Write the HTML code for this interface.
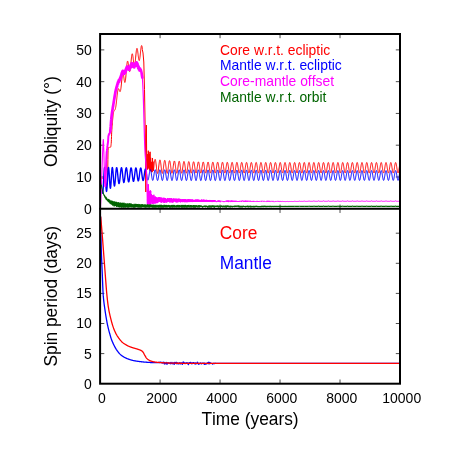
<!DOCTYPE html>
<html>
<head>
<meta charset="utf-8">
<title>Obliquity and spin period</title>
<style>
html,body{margin:0;padding:0;background:#fff;}
body{width:450px;height:454px;overflow:hidden;}
svg{display:block;will-change:transform;}
text{font-family:"Liberation Sans",sans-serif;font-kerning:none;}
</style>
</head>
<body>
<svg width="450" height="454" viewBox="0 0 450 454">
<defs>
<clipPath id="c1"><rect x="100.1" y="34.0" width="299.9" height="174.75"/></clipPath>
<clipPath id="c2"><rect x="100.1" y="208.75" width="299.9" height="174.95"/></clipPath>
</defs>
<path d="M160.08,34.00 L160.08,38.20 M160.08,208.75 L160.08,204.55 M160.08,208.75 L160.08,212.95 M160.08,383.70 L160.08,379.50 M220.06,34.00 L220.06,38.20 M220.06,208.75 L220.06,204.55 M220.06,208.75 L220.06,212.95 M220.06,383.70 L220.06,379.50 M280.04,34.00 L280.04,38.20 M280.04,208.75 L280.04,204.55 M280.04,208.75 L280.04,212.95 M280.04,383.70 L280.04,379.50 M340.02,34.00 L340.02,38.20 M340.02,208.75 L340.02,204.55 M340.02,208.75 L340.02,212.95 M340.02,383.70 L340.02,379.50 M100.10,176.98 L104.30,176.98 M400.00,176.98 L395.80,176.98 M100.10,145.20 L104.30,145.20 M400.00,145.20 L395.80,145.20 M100.10,113.43 L104.30,113.43 M400.00,113.43 L395.80,113.43 M100.10,81.66 L104.30,81.66 M400.00,81.66 L395.80,81.66 M100.10,49.89 L104.30,49.89 M400.00,49.89 L395.80,49.89 M100.10,353.60 L104.30,353.60 M400.00,353.60 L395.80,353.60 M100.10,323.50 L104.30,323.50 M400.00,323.50 L395.80,323.50 M100.10,293.40 L104.30,293.40 M400.00,293.40 L395.80,293.40 M100.10,263.30 L104.30,263.30 M400.00,263.30 L395.80,263.30 M100.10,233.20 L104.30,233.20 M400.00,233.20 L395.80,233.20" stroke="#000" stroke-width="0.7" fill="none"/>
<g fill="none" stroke-linejoin="round" stroke-linecap="butt" clip-path="url(#c1)">
<path d="M100.10,178.00 L100.20,178.00 L100.30,178.00 L100.40,178.00 L100.50,178.01 L100.60,178.01 L100.70,178.01 L100.80,178.02 L100.90,178.02 L101.00,178.03 L101.10,178.04 L101.20,178.05 L101.30,178.06 L101.40,178.07 L101.50,178.08 L101.60,178.09 L101.70,178.10 L101.80,178.12 L101.90,178.13 L102.00,178.15 L102.10,178.16 L102.20,178.18 L102.30,178.20 L102.40,178.22 L102.50,178.24 L102.60,178.26 L102.70,178.28 L102.80,178.30 L102.90,178.33 L103.00,178.36 L103.10,178.38 L103.20,178.41 L103.30,178.44 L103.40,178.47 L103.50,178.50 L103.60,178.57 L103.70,178.71 L103.80,178.90 L103.90,179.15 L104.00,179.45 L104.10,179.78 L104.20,180.14 L104.30,180.51 L104.40,180.90 L104.50,181.29 L104.60,181.68 L104.70,182.05 L104.80,182.40 L104.90,182.72 L105.00,183.00 L105.10,183.27 L105.20,183.56 L105.30,183.87 L105.40,184.18 L105.50,184.48 L105.60,184.78 L105.70,185.06 L105.80,185.32 L105.90,185.54 L106.00,185.73 L106.10,185.88 L106.20,185.97 L106.30,186.00 L106.40,185.96 L106.50,185.83 L106.60,185.62 L106.70,185.33 L106.80,184.95 L106.90,184.51 L107.00,183.99 L107.10,183.39 L107.20,182.73 L107.30,182.00 L107.40,180.77 L107.50,178.66 L107.60,175.77 L107.70,172.18 L107.80,168.00 L107.90,159.34 L108.00,152.00 L108.10,150.37 L108.20,149.12 L108.30,148.23 L108.40,147.70 L108.50,147.50 L108.60,147.47 L108.70,147.44 L108.80,147.42 L108.90,147.40 L109.00,147.39 L109.10,147.37 L109.20,147.37 L109.30,147.36 L109.40,147.35 L109.50,147.35 L109.60,147.34 L109.70,147.34 L109.80,147.34 L109.90,147.33 L110.00,147.32 L110.10,147.31 L110.20,147.30 L110.30,147.28 L110.40,147.26 L110.50,147.23 L110.60,147.20 L110.70,147.04 L110.80,146.65 L110.90,146.07 L111.00,145.32 L111.10,144.46 L111.20,143.50 L111.30,141.92 L111.40,139.47 L111.50,136.67 L111.60,134.09 L111.70,132.12 L111.80,130.65 L111.90,129.22 L112.00,127.84 L112.10,126.49 L112.20,125.17 L112.30,123.89 L112.40,122.65 L112.50,121.45 L112.60,120.28 L112.70,119.16 L112.80,118.09 L112.90,117.07 L113.00,116.11 L113.10,115.28 L113.20,114.52 L113.30,113.84 L113.40,113.22 L113.50,112.69 L113.60,112.22 L113.70,111.81 L113.80,111.47 L113.90,111.19 L114.00,110.96 L114.10,110.78 L114.20,110.63 L114.30,110.52 L114.40,110.42 L114.50,110.34 L114.60,110.26 L114.70,110.18 L114.80,110.08 L114.90,109.95 L115.00,109.78 L115.10,109.57 L115.20,109.32 L115.30,109.02 L115.40,108.67 L115.50,108.27 L115.60,107.81 L115.70,107.30 L115.80,106.73 L115.90,106.11 L116.00,105.42 L116.10,104.69 L116.20,103.91 L116.30,103.08 L116.40,102.21 L116.50,101.31 L116.60,100.38 L116.70,99.44 L116.80,98.49 L116.90,97.54 L117.00,96.61 L117.10,95.69 L117.20,94.81 L117.30,93.97 L117.40,93.17 L117.50,92.42 L117.60,91.72 L117.70,91.09 L117.80,90.53 L117.90,90.03 L118.00,89.61 L118.10,89.27 L118.20,89.01 L118.30,88.83 L118.40,88.72 L118.50,88.69 L118.60,88.72 L118.70,88.82 L118.80,88.97 L118.90,89.17 L119.00,89.40 L119.10,89.67 L119.20,89.95 L119.30,90.24 L119.40,90.54 L119.50,90.81 L119.60,91.07 L119.70,91.29 L119.80,91.46 L119.90,91.58 L120.00,91.64 L120.10,91.63 L120.20,91.54 L120.30,91.37 L120.40,91.12 L120.50,90.77 L120.60,90.33 L120.70,89.81 L120.80,89.20 L120.90,88.52 L121.00,87.75 L121.10,86.92 L121.20,86.03 L121.30,85.09 L121.40,84.10 L121.50,83.08 L121.60,82.05 L121.70,81.02 L121.80,80.00 L121.90,79.00 L122.00,78.05 L122.10,77.14 L122.20,76.31 L122.30,75.56 L122.40,74.89 L122.50,74.33 L122.60,73.87 L122.70,73.53 L122.80,73.31 L122.90,73.21 L123.00,73.22 L123.10,73.36 L123.20,73.61 L123.30,73.97 L123.40,74.42 L123.50,74.97 L123.60,75.58 L123.70,76.26 L123.80,76.98 L123.90,77.73 L124.00,78.50 L124.10,79.23 L124.20,79.93 L124.30,80.57 L124.40,81.14 L124.50,81.62 L124.60,82.01 L124.70,82.28 L124.80,82.44 L124.90,82.47 L125.00,82.37 L125.10,82.14 L125.20,81.77 L125.30,81.28 L125.40,80.66 L125.50,79.91 L125.60,79.06 L125.70,78.11 L125.80,77.07 L125.90,75.96 L126.00,74.79 L126.10,73.58 L126.20,72.34 L126.30,71.10 L126.40,69.87 L126.50,68.67 L126.60,67.51 L126.70,66.41 L126.80,65.38 L126.90,64.44 L127.00,63.60 L127.10,62.87 L127.20,62.26 L127.30,61.77 L127.40,61.42 L127.50,61.19 L127.60,61.10 L127.70,61.14 L127.80,61.31 L127.90,61.60 L128.00,61.99 L128.10,62.49 L128.20,63.07 L128.30,63.73 L128.40,64.45 L128.50,65.21 L128.60,65.99 L128.70,66.78 L128.80,67.57 L128.90,68.32 L129.00,69.03 L129.10,69.69 L129.20,70.26 L129.30,70.75 L129.40,71.14 L129.50,71.41 L129.60,71.57 L129.70,71.61 L129.80,71.52 L129.90,71.30 L130.00,70.96 L130.10,70.49 L130.20,69.91 L130.30,69.22 L130.40,68.42 L130.50,67.54 L130.60,66.58 L130.70,65.57 L130.80,64.50 L130.90,63.41 L131.00,62.31 L131.10,61.21 L131.20,60.13 L131.30,59.10 L131.40,58.12 L131.50,57.21 L131.60,56.39 L131.70,55.66 L131.80,55.04 L131.90,54.54 L132.00,54.16 L132.10,53.91 L132.20,53.78 L132.30,53.79 L132.40,53.92 L132.50,54.17 L132.60,54.54 L132.70,55.02 L132.80,55.59 L132.90,56.25 L133.00,56.97 L133.10,57.75 L133.20,58.57 L133.30,59.41 L133.40,60.26 L133.50,61.10 L133.60,61.91 L133.70,62.68 L133.80,63.39 L133.90,64.02 L134.00,64.57 L134.10,65.01 L134.20,65.35 L134.30,65.58 L134.40,65.68 L134.50,65.65 L134.60,65.50 L134.70,65.22 L134.80,64.82 L134.90,64.30 L135.00,63.66 L135.10,62.93 L135.20,62.10 L135.30,61.19 L135.40,60.22 L135.50,59.21 L135.60,58.15 L135.70,57.08 L135.80,56.01 L135.90,54.95 L136.00,53.92 L136.10,52.94 L136.20,52.02 L136.30,51.18 L136.40,50.43 L136.50,49.78 L136.60,49.24 L136.70,48.82 L136.80,48.53 L136.90,48.36 L137.00,48.32 L137.10,48.40 L137.20,48.62 L137.30,48.95 L137.40,49.38 L137.50,49.93 L137.60,50.56 L137.70,51.26 L137.80,52.04 L137.90,52.86 L138.00,53.71 L138.10,54.58 L138.20,55.45 L138.30,56.29 L138.40,57.10 L138.50,57.85 L138.60,58.54 L138.70,59.15 L138.80,59.66 L138.90,60.07 L139.00,60.37 L139.10,60.55 L139.20,60.61 L139.30,60.54 L139.40,60.36 L139.50,60.05 L139.60,59.62 L139.70,59.09 L139.80,58.45 L139.90,57.72 L140.00,56.92 L140.10,56.04 L140.20,55.12 L140.30,54.16 L140.40,53.19 L140.50,52.21 L140.60,51.24 L140.70,50.31 L140.80,49.42 L140.90,48.60 L141.00,47.85 L141.10,47.19 L141.20,46.63 L141.30,46.17 L141.40,45.83 L141.50,45.62 L141.60,45.52 L141.70,45.55 L141.80,45.71 L141.90,45.98 L142.00,46.38 L142.30,49.50 L143.00,53.00 L143.80,62.00 L144.50,89.50 L144.90,112.00 L145.20,130.00 L145.50,150.00 L145.70,175.00 L145.80,192.00 L145.95,165.00 L146.15,135.00 L146.35,125.00 L146.60,148.00 L146.90,169.00 L147.10,158.63 L147.40,169.54 L147.70,154.11 L148.00,168.48 L148.30,150.70 L148.60,167.63 L148.90,152.26 L149.20,169.19 L149.50,154.15 L149.80,170.35 L150.10,151.80 L150.40,170.86 L150.70,157.75 L151.00,171.22 L151.30,162.22 L151.60,172.20 L151.90,161.74 L152.20,172.13 L152.50,157.99 L152.80,170.34 L153.10,161.62 L153.40,170.83 L153.90,166.72 L154.02,165.61 L154.14,164.52 L154.26,163.48 L154.38,162.51 L154.50,161.64 L154.62,160.88 L154.74,160.27 L154.86,159.80 L154.98,159.50 L155.10,159.37 L155.22,159.42 L155.34,159.63 L155.46,160.01 L155.58,160.55 L155.70,161.23 L155.82,162.04 L155.94,162.95 L156.06,163.95 L156.18,165.01 L156.30,166.10 L156.42,167.20 L156.54,168.28 L156.66,169.31 L156.78,170.28 L156.90,171.15 L157.02,171.90 L157.14,172.52 L157.26,172.99 L157.38,173.30 L157.50,173.45 L157.62,173.43 L157.74,173.23 L157.86,172.88 L157.98,172.37 L158.10,171.72 L158.22,170.95 L158.34,170.07 L158.46,169.10 L158.58,168.08 L158.70,167.02 L158.82,165.96 L158.94,164.91 L159.06,163.90 L159.18,162.97 L159.30,162.12 L159.42,161.39 L159.54,160.79 L159.66,160.33 L159.78,160.03 L159.90,159.89 L160.02,159.91 L160.14,160.10 L160.26,160.45 L160.38,160.96 L160.50,161.60 L160.62,162.36 L160.74,163.23 L160.86,164.18 L160.98,165.19 L161.10,166.24 L161.22,167.29 L161.34,168.33 L161.46,169.33 L161.58,170.26 L161.70,171.10 L161.82,171.83 L161.94,172.44 L162.06,172.91 L162.18,173.22 L162.30,173.37 L162.42,173.37 L162.54,173.20 L162.66,172.87 L162.78,172.39 L162.90,171.78 L163.02,171.04 L163.14,170.20 L163.26,169.28 L163.38,168.30 L163.50,167.28 L163.62,166.26 L163.74,165.24 L163.86,164.27 L163.98,163.36 L164.10,162.54 L164.22,161.82 L164.34,161.23 L164.46,160.78 L164.58,160.47 L164.70,160.32 L164.82,160.33 L164.94,160.50 L165.06,160.82 L165.18,161.29 L165.30,161.90 L165.42,162.63 L165.54,163.45 L165.66,164.37 L165.78,165.34 L165.90,166.34 L166.02,167.36 L166.14,168.36 L166.26,169.33 L166.38,170.24 L166.50,171.06 L166.62,171.77 L166.74,172.37 L166.86,172.83 L166.98,173.15 L167.10,173.31 L167.22,173.32 L167.34,173.16 L167.46,172.86 L167.58,172.41 L167.70,171.83 L167.82,171.13 L167.94,170.32 L168.06,169.44 L168.18,168.49 L168.30,167.51 L168.42,166.51 L168.54,165.53 L168.66,164.59 L168.78,163.70 L168.90,162.90 L169.02,162.19 L169.14,161.61 L169.26,161.15 L169.38,160.84 L169.50,160.68 L169.62,160.68 L169.74,160.83 L169.86,161.13 L169.98,161.57 L170.10,162.15 L170.22,162.84 L170.34,163.64 L170.46,164.51 L170.58,165.45 L170.70,166.42 L170.82,167.41 L170.94,168.38 L171.06,169.33 L171.18,170.21 L171.30,171.01 L171.42,171.72 L171.54,172.31 L171.66,172.77 L171.78,173.09 L171.90,173.26 L172.02,173.27 L172.14,173.14 L172.26,172.86 L172.38,172.43 L172.50,171.88 L172.62,171.20 L172.74,170.43 L172.86,169.57 L172.98,168.66 L173.10,167.71 L173.22,166.74 L173.34,165.78 L173.46,164.86 L173.58,163.99 L173.70,163.20 L173.82,162.51 L173.94,161.92 L174.06,161.47 L174.18,161.16 L174.30,160.99 L174.42,160.97 L174.54,161.10 L174.66,161.38 L174.78,161.80 L174.90,162.35 L175.02,163.02 L175.14,163.78 L175.26,164.63 L175.38,165.53 L175.50,166.48 L175.62,167.44 L175.74,168.39 L175.86,169.31 L175.98,170.18 L176.10,170.97 L176.22,171.66 L176.34,172.25 L176.46,172.71 L176.58,173.03 L176.70,173.21 L176.82,173.24 L176.94,173.12 L177.06,172.86 L177.18,172.45 L177.30,171.92 L177.42,171.27 L177.54,170.53 L177.66,169.70 L177.78,168.81 L177.90,167.88 L178.02,166.94 L178.14,166.00 L178.26,165.10 L178.38,164.24 L178.50,163.46 L178.62,162.78 L178.74,162.20 L178.86,161.74 L178.98,161.42 L179.10,161.25 L179.22,161.21 L179.34,161.33 L179.46,161.59 L179.58,161.99 L179.70,162.51 L179.82,163.16 L179.94,163.90 L180.06,164.72 L180.18,165.60 L180.30,166.52 L180.42,167.46 L180.54,168.39 L180.66,169.29 L180.78,170.14 L180.90,170.92 L181.02,171.61 L181.14,172.19 L181.26,172.65 L181.38,172.98 L181.50,173.17 L181.62,173.21 L181.74,173.10 L181.86,172.86 L181.98,172.47 L182.10,171.96 L182.22,171.34 L182.34,170.61 L182.46,169.81 L182.58,168.94 L182.70,168.04 L182.82,167.11 L182.94,166.19 L183.06,165.30 L183.18,164.46 L183.30,163.69 L183.42,163.01 L183.54,162.43 L183.66,161.98 L183.78,161.65 L183.90,161.46 L184.02,161.42 L184.14,161.52 L184.26,161.76 L184.38,162.14 L184.50,162.65 L184.62,163.27 L184.74,163.98 L184.86,164.78 L184.98,165.64 L185.10,166.54 L185.22,167.46 L185.34,168.38 L185.46,169.26 L185.58,170.10 L185.70,170.88 L185.82,171.56 L185.94,172.14 L186.06,172.60 L186.18,172.93 L186.30,173.13 L186.42,173.18 L186.54,173.09 L186.66,172.86 L186.78,172.50 L186.90,172.00 L187.02,171.40 L187.14,170.70 L187.26,169.91 L187.38,169.06 L187.50,168.18 L187.62,167.27 L187.74,166.37 L187.86,165.49 L187.98,164.65 L188.10,163.89 L188.22,163.21 L188.34,162.64 L188.46,162.18 L188.58,161.84 L188.70,161.65 L188.82,161.59 L188.94,161.68 L189.06,161.91 L189.18,162.27 L189.30,162.75 L189.42,163.35 L189.54,164.05 L189.66,164.83 L189.78,165.67 L189.90,166.55 L190.02,167.45 L190.14,168.36 L190.26,169.23 L190.38,170.06 L190.50,170.83 L190.62,171.51 L190.74,172.09 L190.86,172.55 L190.98,172.89 L191.10,173.09 L191.22,173.16 L191.34,173.08 L191.46,172.87 L191.58,172.52 L191.70,172.04 L191.82,171.46 L191.94,170.77 L192.06,170.00 L192.18,169.17 L192.30,168.30 L192.42,167.41 L192.54,166.52 L192.66,165.65 L192.78,164.83 L192.90,164.07 L193.02,163.39 L193.14,162.81 L193.26,162.35 L193.38,162.01 L193.50,161.81 L193.62,161.74 L193.74,161.81 L193.86,162.02 L193.98,162.37 L194.10,162.84 L194.22,163.42 L194.34,164.10 L194.46,164.86 L194.58,165.68 L194.70,166.55 L194.82,167.44 L194.94,168.33 L195.06,169.20 L195.18,170.02 L195.30,170.78 L195.42,171.46 L195.54,172.04 L195.66,172.51 L195.78,172.85 L195.90,173.06 L196.02,173.14 L196.14,173.07 L196.26,172.87 L196.38,172.54 L196.50,172.08 L196.62,171.51 L196.74,170.84 L196.86,170.09 L196.98,169.28 L197.10,168.42 L197.22,167.54 L197.34,166.66 L197.46,165.80 L197.58,164.98 L197.70,164.22 L197.82,163.55 L197.94,162.97 L198.06,162.50 L198.18,162.15 L198.30,161.94 L198.42,161.86 L198.54,161.92 L198.66,162.12 L198.78,162.45 L198.90,162.90 L199.02,163.46 L199.14,164.13 L199.26,164.87 L199.38,165.68 L199.50,166.54 L199.62,167.42 L199.74,168.29 L199.86,169.15 L199.98,169.97 L200.10,170.73 L200.22,171.41 L200.34,171.99 L200.46,172.46 L200.58,172.82 L200.70,173.04 L200.82,173.12 L200.94,173.07 L201.06,172.88 L201.18,172.56 L201.30,172.12 L201.42,171.56 L201.54,170.91 L201.66,170.17 L201.78,169.37 L201.90,168.53 L202.02,167.66 L202.14,166.78 L202.26,165.93 L202.38,165.12 L202.50,164.36 L202.62,163.68 L202.74,163.10 L202.86,162.63 L202.98,162.28 L203.10,162.05 L203.22,161.97 L203.34,162.01 L203.46,162.20 L203.58,162.51 L203.70,162.95 L203.82,163.50 L203.94,164.15 L204.06,164.88 L204.18,165.68 L204.30,166.52 L204.42,167.39 L204.54,168.26 L204.66,169.11 L204.78,169.92 L204.90,170.68 L205.02,171.36 L205.14,171.94 L205.26,172.42 L205.38,172.78 L205.50,173.01 L205.62,173.11 L205.74,173.07 L205.86,172.89 L205.98,172.59 L206.10,172.16 L206.22,171.62 L206.34,170.98 L206.46,170.25 L206.58,169.46 L206.70,168.63 L206.82,167.77 L206.94,166.90 L207.06,166.05 L207.18,165.24 L207.30,164.49 L207.42,163.81 L207.54,163.22 L207.66,162.75 L207.78,162.39 L207.90,162.15 L208.02,162.05 L208.14,162.09 L208.26,162.26 L208.38,162.56 L208.50,162.98 L208.62,163.52 L208.74,164.16 L208.86,164.87 L208.98,165.66 L209.10,166.49 L209.22,167.35 L209.34,168.21 L209.46,169.06 L209.58,169.87 L209.70,170.63 L209.82,171.31 L209.94,171.90 L210.06,172.38 L210.18,172.75 L210.30,172.98 L210.42,173.09 L210.54,173.06 L210.66,172.90 L210.78,172.61 L210.90,172.19 L211.02,171.66 L211.14,171.04 L211.26,170.33 L211.38,169.55 L211.50,168.72 L211.62,167.87 L211.74,167.01 L211.86,166.16 L211.98,165.36 L212.10,164.60 L212.22,163.92 L212.34,163.33 L212.46,162.85 L212.58,162.48 L212.70,162.24 L212.82,162.13 L212.94,162.15 L213.06,162.31 L213.18,162.60 L213.30,163.01 L213.42,163.53 L213.54,164.15 L213.66,164.86 L213.78,165.64 L213.90,166.46 L214.02,167.31 L214.14,168.17 L214.26,169.01 L214.38,169.82 L214.50,170.58 L214.62,171.26 L214.74,171.85 L214.86,172.34 L214.98,172.71 L215.10,172.96 L215.22,173.08 L215.34,173.06 L215.46,172.91 L215.58,172.63 L215.70,172.23 L215.82,171.71 L215.94,171.10 L216.06,170.40 L216.18,169.63 L216.30,168.81 L216.42,167.96 L216.54,167.11 L216.66,166.27 L216.78,165.46 L216.90,164.71 L217.02,164.02 L217.14,163.43 L217.26,162.94 L217.38,162.56 L217.50,162.31 L217.62,162.19 L217.74,162.20 L217.86,162.35 L217.98,162.63 L218.10,163.02 L218.22,163.53 L218.34,164.14 L218.46,164.84 L218.58,165.61 L218.70,166.42 L218.82,167.26 L218.94,168.12 L219.06,168.96 L219.18,169.77 L219.30,170.52 L219.42,171.21 L219.54,171.80 L219.66,172.30 L219.78,172.68 L219.90,172.94 L220.02,173.07 L220.14,173.06 L220.26,172.92 L220.38,172.65 L220.50,172.26 L220.62,171.76 L220.74,171.15 L220.86,170.46 L220.98,169.70 L221.10,168.90 L221.22,168.06 L221.34,167.21 L221.46,166.37 L221.58,165.56 L221.70,164.81 L221.82,164.12 L221.94,163.52 L222.06,163.02 L222.18,162.64 L222.30,162.38 L222.42,162.25 L222.54,162.25 L222.66,162.38 L222.78,162.65 L222.90,163.03 L223.02,163.53 L223.14,164.13 L223.26,164.82 L223.38,165.57 L223.50,166.38 L223.62,167.22 L223.74,168.06 L223.86,168.90 L223.98,169.71 L224.10,170.47 L224.22,171.16 L224.34,171.76 L224.46,172.26 L224.58,172.65 L224.70,172.92 L224.82,173.05 L224.94,173.06 L225.06,172.93 L225.18,172.68 L225.30,172.30 L225.42,171.80 L225.54,171.21 L225.66,170.53 L225.78,169.78 L225.90,168.98 L226.02,168.14 L226.14,167.30 L226.26,166.46 L226.38,165.65 L226.50,164.90 L226.62,164.21 L226.74,163.60 L226.86,163.10 L226.98,162.71 L227.10,162.44 L227.22,162.30 L227.34,162.29 L227.46,162.41 L227.58,162.66 L227.70,163.03 L227.82,163.52 L227.94,164.11 L228.06,164.79 L228.18,165.53 L228.30,166.33 L228.42,167.17 L228.54,168.01 L228.66,168.85 L228.78,169.65 L228.90,170.41 L229.02,171.10 L229.14,171.71 L229.26,172.22 L229.38,172.62 L229.50,172.89 L229.62,173.04 L229.74,173.06 L229.86,172.94 L229.98,172.70 L230.10,172.33 L230.22,171.85 L230.34,171.27 L230.46,170.59 L230.58,169.85 L230.70,169.06 L230.82,168.23 L230.94,167.38 L231.06,166.55 L231.18,165.74 L231.30,164.98 L231.42,164.29 L231.54,163.68 L231.66,163.17 L231.78,162.77 L231.90,162.49 L232.02,162.34 L232.14,162.32 L232.26,162.43 L232.38,162.67 L232.50,163.03 L232.62,163.51 L232.74,164.08 L232.86,164.75 L232.98,165.49 L233.10,166.28 L233.22,167.11 L233.34,167.95 L233.46,168.79 L233.58,169.60 L233.70,170.36 L233.82,171.05 L233.94,171.66 L234.06,172.18 L234.18,172.59 L234.30,172.87 L234.42,173.03 L234.54,173.06 L234.66,172.95 L234.78,172.72 L234.90,172.36 L235.02,171.89 L235.14,171.32 L235.26,170.66 L235.38,169.92 L235.50,169.13 L235.62,168.31 L235.74,167.47 L235.86,166.63 L235.98,165.83 L236.10,165.07 L236.22,164.37 L236.34,163.75 L236.46,163.24 L236.58,162.83 L236.70,162.54 L236.82,162.37 L236.94,162.34 L237.06,162.44 L237.18,162.67 L237.30,163.02 L237.42,163.49 L237.54,164.06 L237.66,164.71 L237.78,165.45 L237.90,166.23 L238.02,167.06 L238.14,167.89 L238.26,168.73 L238.38,169.54 L238.50,170.30 L238.62,171.00 L238.74,171.62 L238.86,172.14 L238.98,172.55 L239.10,172.85 L239.22,173.02 L239.34,173.06 L239.46,172.96 L239.58,172.74 L239.70,172.39 L239.82,171.93 L239.94,171.37 L240.06,170.72 L240.18,169.99 L240.30,169.21 L240.42,168.39 L240.54,167.55 L240.66,166.72 L240.78,165.91 L240.90,165.14 L241.02,164.44 L241.14,163.82 L241.26,163.30 L241.38,162.88 L241.50,162.58 L241.62,162.41 L241.74,162.36 L241.86,162.45 L241.98,162.67 L242.10,163.01 L242.22,163.47 L242.34,164.02 L242.46,164.67 L242.58,165.40 L242.70,166.18 L242.82,167.00 L242.94,167.83 L243.06,168.67 L243.18,169.48 L243.30,170.24 L243.42,170.95 L243.54,171.57 L243.66,172.10 L243.78,172.52 L243.90,172.83 L244.02,173.00 L244.14,173.05 L244.26,172.97 L244.38,172.76 L244.50,172.43 L244.62,171.98 L244.74,171.42 L244.86,170.78 L244.98,170.06 L245.10,169.28 L245.22,168.46 L245.34,167.63 L245.46,166.80 L245.58,165.99 L245.70,165.22 L245.82,164.52 L245.94,163.89 L246.06,163.36 L246.18,162.93 L246.30,162.62 L246.42,162.44 L246.54,162.38 L246.66,162.46 L246.78,162.67 L246.90,163.00 L247.02,163.44 L247.14,163.99 L247.26,164.63 L247.38,165.35 L247.50,166.12 L247.62,166.94 L247.74,167.77 L247.86,168.60 L247.98,169.41 L248.10,170.18 L248.22,170.89 L248.34,171.52 L248.46,172.06 L248.58,172.49 L248.70,172.80 L248.82,172.99 L248.94,173.05 L249.06,172.98 L249.18,172.78 L249.30,172.46 L249.42,172.02 L249.54,171.47 L249.66,170.84 L249.78,170.12 L249.90,169.35 L250.02,168.54 L250.14,167.71 L250.26,166.88 L250.38,166.06 L250.50,165.30 L250.62,164.59 L250.74,163.95 L250.86,163.41 L250.98,162.98 L251.10,162.66 L251.22,162.47 L251.34,162.40 L251.46,162.47 L251.58,162.66 L251.70,162.98 L251.82,163.41 L251.94,163.96 L252.06,164.59 L252.18,165.30 L252.30,166.07 L252.42,166.88 L252.54,167.71 L252.66,168.54 L252.78,169.35 L252.90,170.12 L253.02,170.84 L253.14,171.47 L253.26,172.02 L253.38,172.46 L253.50,172.78 L253.62,172.98 L253.74,173.05 L253.86,172.99 L253.98,172.80 L254.10,172.49 L254.22,172.06 L254.34,171.52 L254.46,170.89 L254.58,170.19 L254.70,169.42 L254.82,168.61 L254.94,167.78 L255.06,166.95 L255.18,166.14 L255.30,165.37 L255.42,164.65 L255.54,164.01 L255.66,163.47 L255.78,163.02 L255.90,162.70 L256.02,162.49 L256.14,162.42 L256.26,162.47 L256.38,162.65 L256.50,162.96 L256.62,163.39 L256.74,163.92 L256.86,164.54 L256.98,165.25 L257.10,166.01 L257.22,166.82 L257.34,167.65 L257.46,168.48 L257.58,169.29 L257.70,170.06 L257.82,170.78 L257.94,171.42 L258.06,171.97 L258.18,172.42 L258.30,172.76 L258.42,172.97 L258.54,173.05 L258.66,173.00 L258.78,172.82 L258.90,172.52 L259.02,172.10 L259.14,171.57 L259.26,170.95 L259.38,170.25 L259.50,169.49 L259.62,168.68 L259.74,167.86 L259.86,167.03 L259.98,166.21 L260.10,165.44 L260.22,164.72 L260.34,164.07 L260.46,163.52 L260.58,163.07 L260.70,162.73 L260.82,162.52 L260.94,162.43 L261.06,162.47 L261.18,162.65 L261.30,162.94 L261.42,163.36 L261.54,163.88 L261.66,164.50 L261.78,165.19 L261.90,165.95 L262.02,166.76 L262.14,167.58 L262.26,168.41 L262.38,169.23 L262.50,170.00 L262.62,170.72 L262.74,171.37 L262.86,171.93 L262.98,172.39 L263.10,172.73 L263.22,172.95 L263.34,173.04 L263.46,173.01 L263.58,172.84 L263.70,172.55 L263.82,172.14 L263.94,171.62 L264.06,171.01 L264.18,170.31 L264.30,169.56 L264.42,168.76 L264.54,167.93 L264.66,167.10 L264.78,166.29 L264.90,165.51 L265.02,164.78 L265.14,164.13 L265.26,163.57 L265.38,163.11 L265.50,162.76 L265.62,162.54 L265.74,162.44 L265.86,162.47 L265.98,162.64 L266.10,162.92 L266.22,163.33 L266.34,163.84 L266.46,164.45 L266.58,165.14 L266.70,165.89 L266.82,166.69 L266.94,167.52 L267.06,168.35 L267.18,169.16 L267.30,169.94 L267.42,170.67 L267.54,171.32 L267.66,171.89 L267.78,172.35 L267.90,172.71 L268.02,172.94 L268.14,173.04 L268.26,173.01 L268.38,172.86 L268.50,172.57 L268.62,172.17 L268.74,171.66 L268.86,171.06 L268.98,170.37 L269.10,169.62 L269.22,168.83 L269.34,168.00 L269.46,167.17 L269.58,166.36 L269.70,165.58 L269.82,164.85 L269.94,164.19 L270.06,163.62 L270.18,163.15 L270.30,162.80 L270.42,162.56 L270.54,162.45 L270.66,162.47 L270.78,162.63 L270.90,162.90 L271.02,163.30 L271.14,163.80 L271.26,164.40 L271.38,165.09 L271.50,165.83 L271.62,166.63 L271.74,167.45 L271.86,168.28 L271.98,169.10 L272.10,169.88 L272.22,170.61 L272.34,171.27 L272.46,171.85 L272.58,172.32 L272.70,172.68 L272.82,172.92 L272.94,173.03 L273.06,173.02 L273.18,172.87 L273.30,172.60 L273.42,172.21 L273.54,171.71 L273.66,171.11 L273.78,170.43 L273.90,169.69 L274.02,168.90 L274.14,168.08 L274.26,167.25 L274.38,166.43 L274.50,165.64 L274.62,164.91 L274.74,164.25 L274.86,163.67 L274.98,163.19 L275.10,162.83 L275.22,162.58 L275.34,162.46 L275.46,162.47 L275.58,162.62 L275.70,162.88 L275.82,163.27 L275.94,163.76 L276.06,164.36 L276.18,165.03 L276.30,165.77 L276.42,166.57 L276.54,167.39 L276.66,168.21 L276.78,169.03 L276.90,169.82 L277.02,170.55 L277.14,171.22 L277.26,171.80 L277.38,172.28 L277.50,172.65 L277.62,172.90 L277.74,173.03 L277.86,173.02 L277.98,172.89 L278.10,172.63 L278.22,172.25 L278.34,171.76 L278.46,171.17 L278.58,170.50 L278.70,169.75 L278.82,168.97 L278.94,168.15 L279.06,167.32 L279.18,166.50 L279.30,165.71 L279.42,164.98 L279.54,164.31 L279.66,163.72 L279.78,163.23 L279.90,162.86 L280.02,162.60 L280.14,162.47 L280.26,162.47 L280.38,162.60 L280.50,162.86 L280.62,163.24 L280.74,163.72 L280.86,164.31 L280.98,164.98 L281.10,165.71 L281.22,166.50 L281.34,167.32 L281.46,168.15 L281.58,168.97 L281.70,169.76 L281.82,170.50 L281.94,171.17 L282.06,171.76 L282.18,172.25 L282.30,172.63 L282.42,172.89 L282.54,173.02 L282.66,173.03 L282.78,172.90 L282.90,172.65 L283.02,172.28 L283.14,171.80 L283.26,171.22 L283.38,170.55 L283.50,169.82 L283.62,169.03 L283.74,168.22 L283.86,167.39 L283.98,166.57 L284.10,165.78 L284.22,165.04 L284.34,164.36 L284.46,163.77 L284.58,163.28 L284.70,162.89 L284.82,162.63 L284.94,162.49 L285.06,162.47 L285.18,162.59 L285.30,162.84 L285.42,163.20 L285.54,163.68 L285.66,164.26 L285.78,164.92 L285.90,165.65 L286.02,166.44 L286.14,167.25 L286.26,168.08 L286.38,168.90 L286.50,169.69 L286.62,170.44 L286.74,171.12 L286.86,171.71 L286.98,172.21 L287.10,172.60 L287.22,172.87 L287.34,173.02 L287.46,173.03 L287.58,172.92 L287.70,172.68 L287.82,172.32 L287.94,171.85 L288.06,171.27 L288.18,170.61 L288.30,169.88 L288.42,169.10 L288.54,168.29 L288.66,167.46 L288.78,166.64 L288.90,165.85 L289.02,165.10 L289.14,164.42 L289.26,163.82 L289.38,163.32 L289.50,162.92 L289.62,162.65 L289.74,162.50 L289.86,162.47 L289.98,162.58 L290.10,162.82 L290.22,163.17 L290.34,163.64 L290.46,164.21 L290.58,164.87 L290.70,165.59 L290.82,166.37 L290.94,167.19 L291.06,168.01 L291.18,168.83 L291.30,169.63 L291.42,170.38 L291.54,171.06 L291.66,171.66 L291.78,172.17 L291.90,172.57 L292.02,172.85 L292.14,173.01 L292.26,173.03 L292.38,172.93 L292.50,172.70 L292.62,172.35 L292.74,171.89 L292.86,171.32 L292.98,170.67 L293.10,169.95 L293.22,169.17 L293.34,168.36 L293.46,167.53 L293.58,166.71 L293.70,165.91 L293.82,165.16 L293.94,164.48 L294.06,163.87 L294.18,163.36 L294.30,162.95 L294.42,162.67 L294.54,162.51 L294.66,162.48 L294.78,162.57 L294.90,162.80 L295.02,163.14 L295.14,163.60 L295.26,164.16 L295.38,164.81 L295.50,165.53 L295.62,166.31 L295.74,167.12 L295.86,167.95 L295.98,168.77 L296.10,169.57 L296.22,170.32 L296.34,171.01 L296.46,171.62 L296.58,172.13 L296.70,172.54 L296.82,172.83 L296.94,173.00 L297.06,173.04 L297.18,172.95 L297.30,172.73 L297.42,172.39 L297.54,171.93 L297.66,171.37 L297.78,170.73 L297.90,170.01 L298.02,169.24 L298.14,168.43 L298.26,167.60 L298.38,166.78 L298.50,165.98 L298.62,165.23 L298.74,164.53 L298.86,163.92 L298.98,163.40 L299.10,162.99 L299.22,162.69 L299.34,162.52 L299.46,162.48 L299.58,162.56 L299.70,162.78 L299.82,163.11 L299.94,163.56 L300.06,164.11 L300.18,164.76 L300.30,165.47 L300.42,166.24 L300.54,167.05 L300.66,167.88 L300.78,168.70 L300.90,169.50 L301.02,170.26 L301.14,170.95 L301.26,171.57 L301.38,172.09 L301.50,172.51 L301.62,172.81 L301.74,172.99 L301.86,173.04 L301.98,172.96 L302.10,172.75 L302.22,172.42 L302.34,171.97 L302.46,171.42 L302.58,170.79 L302.70,170.07 L302.82,169.30 L302.94,168.50 L303.06,167.67 L303.18,166.85 L303.30,166.05 L303.42,165.29 L303.54,164.59 L303.66,163.97 L303.78,163.44 L303.90,163.02 L304.02,162.71 L304.14,162.53 L304.26,162.48 L304.38,162.55 L304.50,162.76 L304.62,163.08 L304.74,163.52 L304.86,164.07 L304.98,164.70 L305.10,165.41 L305.22,166.18 L305.34,166.98 L305.46,167.81 L305.58,168.63 L305.70,169.44 L305.82,170.20 L305.94,170.90 L306.06,171.52 L306.18,172.05 L306.30,172.48 L306.42,172.79 L306.54,172.98 L306.66,173.04 L306.78,172.97 L306.90,172.77 L307.02,172.45 L307.14,172.01 L307.26,171.47 L307.38,170.84 L307.50,170.14 L307.62,169.37 L307.74,168.57 L307.86,167.74 L307.98,166.92 L308.10,166.11 L308.22,165.35 L308.34,164.65 L308.46,164.02 L308.58,163.48 L308.70,163.05 L308.82,162.74 L308.94,162.54 L309.06,162.48 L309.18,162.54 L309.30,162.74 L309.42,163.05 L309.54,163.48 L309.66,164.02 L309.78,164.65 L309.90,165.35 L310.02,166.11 L310.14,166.92 L310.26,167.74 L310.38,168.57 L310.50,169.37 L310.62,170.14 L310.74,170.84 L310.86,171.47 L310.98,172.01 L311.10,172.45 L311.22,172.77 L311.34,172.97 L311.46,173.04 L311.58,172.98 L311.70,172.79 L311.82,172.48 L311.94,172.05 L312.06,171.52 L312.18,170.90 L312.30,170.20 L312.42,169.44 L312.54,168.63 L312.66,167.81 L312.78,166.99 L312.90,166.18 L313.02,165.41 L313.14,164.70 L313.26,164.07 L313.38,163.53 L313.50,163.08 L313.62,162.76 L313.74,162.56 L313.86,162.48 L313.98,162.53 L314.10,162.72 L314.22,163.02 L314.34,163.44 L314.46,163.97 L314.58,164.59 L314.70,165.29 L314.82,166.05 L314.94,166.85 L315.06,167.67 L315.18,168.50 L315.30,169.31 L315.42,170.07 L315.54,170.79 L315.66,171.42 L315.78,171.97 L315.90,172.42 L316.02,172.75 L316.14,172.96 L316.26,173.04 L316.38,172.99 L316.50,172.81 L316.62,172.51 L316.74,172.09 L316.86,171.57 L316.98,170.95 L317.10,170.26 L317.22,169.50 L317.34,168.70 L317.46,167.88 L317.58,167.06 L317.70,166.25 L317.82,165.48 L317.94,164.76 L318.06,164.12 L318.18,163.57 L318.30,163.12 L318.42,162.78 L318.54,162.57 L318.66,162.48 L318.78,162.53 L318.90,162.70 L319.02,162.99 L319.14,163.41 L319.26,163.93 L319.38,164.54 L319.50,165.23 L319.62,165.99 L319.74,166.78 L319.86,167.61 L319.98,168.43 L320.10,169.24 L320.22,170.01 L320.34,170.73 L320.46,171.37 L320.58,171.93 L320.70,172.38 L320.82,172.73 L320.94,172.94 L321.06,173.04 L321.18,173.00 L321.30,172.83 L321.42,172.54 L321.54,172.13 L321.66,171.62 L321.78,171.01 L321.90,170.32 L322.02,169.57 L322.14,168.77 L322.26,167.95 L322.38,167.12 L322.50,166.31 L322.62,165.54 L322.74,164.82 L322.86,164.17 L322.98,163.61 L323.10,163.15 L323.22,162.81 L323.34,162.58 L323.46,162.49 L323.58,162.52 L323.70,162.68 L323.82,162.97 L323.94,163.37 L324.06,163.88 L324.18,164.49 L324.30,165.17 L324.42,165.92 L324.54,166.72 L324.66,167.54 L324.78,168.36 L324.90,169.17 L325.02,169.95 L325.14,170.67 L325.26,171.32 L325.38,171.89 L325.50,172.35 L325.62,172.70 L325.74,172.93 L325.86,173.03 L325.98,173.01 L326.10,172.85 L326.22,172.57 L326.34,172.17 L326.46,171.67 L326.58,171.06 L326.70,170.38 L326.82,169.63 L326.94,168.84 L327.06,168.02 L327.18,167.19 L327.30,166.38 L327.42,165.60 L327.54,164.88 L327.66,164.22 L327.78,163.66 L327.90,163.19 L328.02,162.83 L328.14,162.60 L328.26,162.49 L328.38,162.51 L328.50,162.66 L328.62,162.94 L328.74,163.33 L328.86,163.83 L328.98,164.43 L329.10,165.11 L329.22,165.86 L329.34,166.65 L329.46,167.47 L329.58,168.29 L329.70,169.11 L329.82,169.89 L329.94,170.62 L330.06,171.27 L330.18,171.85 L330.30,172.32 L330.42,172.68 L330.54,172.92 L330.66,173.03 L330.78,173.01 L330.90,172.87 L331.02,172.60 L331.14,172.21 L331.26,171.71 L331.38,171.12 L331.50,170.44 L331.62,169.70 L331.74,168.91 L331.86,168.09 L331.98,167.26 L332.10,166.45 L332.22,165.67 L332.34,164.94 L332.46,164.28 L332.58,163.70 L332.70,163.22 L332.82,162.86 L332.94,162.61 L333.06,162.50 L333.18,162.51 L333.30,162.65 L333.42,162.91 L333.54,163.30 L333.66,163.79 L333.78,164.38 L333.90,165.05 L334.02,165.79 L334.14,166.58 L334.26,167.40 L334.38,168.23 L334.50,169.04 L334.62,169.82 L334.74,170.56 L334.86,171.22 L334.98,171.80 L335.10,172.28 L335.22,172.65 L335.34,172.90 L335.46,173.02 L335.58,173.02 L335.70,172.88 L335.82,172.62 L335.94,172.25 L336.06,171.76 L336.18,171.17 L336.30,170.50 L336.42,169.76 L336.54,168.97 L336.66,168.16 L336.78,167.33 L336.90,166.52 L337.02,165.73 L337.14,165.00 L337.26,164.33 L337.38,163.74 L337.50,163.26 L337.62,162.89 L337.74,162.63 L337.86,162.50 L337.98,162.50 L338.10,162.63 L338.22,162.89 L338.34,163.26 L338.46,163.74 L338.58,164.33 L338.70,165.00 L338.82,165.73 L338.94,166.52 L339.06,167.33 L339.18,168.16 L339.30,168.97 L339.42,169.76 L339.54,170.50 L339.66,171.17 L339.78,171.76 L339.90,172.25 L340.02,172.62 L340.14,172.88 L340.26,173.02 L340.38,173.02 L340.50,172.90 L340.62,172.65 L340.74,172.28 L340.86,171.80 L340.98,171.22 L341.10,170.56 L341.22,169.82 L341.34,169.04 L341.46,168.23 L341.58,167.40 L341.70,166.58 L341.82,165.79 L341.94,165.05 L342.06,164.38 L342.18,163.79 L342.30,163.30 L342.42,162.91 L342.54,162.65 L342.66,162.51 L342.78,162.50 L342.90,162.62 L343.02,162.86 L343.14,163.22 L343.26,163.70 L343.38,164.28 L343.50,164.94 L343.62,165.67 L343.74,166.45 L343.86,167.26 L343.98,168.09 L344.10,168.91 L344.22,169.70 L344.34,170.44 L344.46,171.12 L344.58,171.71 L344.70,172.21 L344.82,172.60 L344.94,172.87 L345.06,173.01 L345.18,173.03 L345.30,172.92 L345.42,172.68 L345.54,172.32 L345.66,171.85 L345.78,171.27 L345.90,170.62 L346.02,169.89 L346.14,169.11 L346.26,168.30 L346.38,167.47 L346.50,166.65 L346.62,165.86 L346.74,165.11 L346.86,164.43 L346.98,163.84 L347.10,163.33 L347.22,162.94 L347.34,162.67 L347.46,162.52 L347.58,162.49 L347.70,162.60 L347.82,162.84 L347.94,163.19 L348.06,163.66 L348.18,164.23 L348.30,164.88 L348.42,165.60 L348.54,166.38 L348.66,167.19 L348.78,168.02 L348.90,168.84 L349.02,169.63 L349.14,170.38 L349.26,171.06 L349.38,171.67 L349.50,172.17 L349.62,172.57 L349.74,172.85 L349.86,173.01 L349.98,173.03 L350.10,172.93 L350.22,172.70 L350.34,172.35 L350.46,171.89 L350.58,171.32 L350.70,170.67 L350.82,169.95 L350.94,169.17 L351.06,168.36 L351.18,167.54 L351.30,166.72 L351.42,165.92 L351.54,165.17 L351.66,164.49 L351.78,163.88 L351.90,163.37 L352.02,162.97 L352.14,162.68 L352.26,162.52 L352.38,162.49 L352.50,162.59 L352.62,162.81 L352.74,163.16 L352.86,163.61 L352.98,164.17 L353.10,164.82 L353.22,165.54 L353.34,166.32 L353.46,167.13 L353.58,167.95 L353.70,168.77 L353.82,169.57 L353.94,170.32 L354.06,171.01 L354.18,171.62 L354.30,172.13 L354.42,172.54 L354.54,172.83 L354.66,173.00 L354.78,173.03 L354.90,172.94 L355.02,172.72 L355.14,172.38 L355.26,171.93 L355.38,171.38 L355.50,170.73 L355.62,170.01 L355.74,169.24 L355.86,168.43 L355.98,167.61 L356.10,166.79 L356.22,165.99 L356.34,165.23 L356.46,164.54 L356.58,163.93 L356.70,163.41 L356.82,163.00 L356.94,162.70 L357.06,162.53 L357.18,162.49 L357.30,162.58 L357.42,162.79 L357.54,163.12 L357.66,163.57 L357.78,164.12 L357.90,164.77 L358.02,165.48 L358.14,166.25 L358.26,167.06 L358.38,167.88 L358.50,168.70 L358.62,169.50 L358.74,170.26 L358.86,170.95 L358.98,171.57 L359.10,172.09 L359.22,172.51 L359.34,172.81 L359.46,172.99 L359.58,173.04 L359.70,172.96 L359.82,172.75 L359.94,172.42 L360.06,171.97 L360.18,171.43 L360.30,170.79 L360.42,170.08 L360.54,169.31 L360.66,168.50 L360.78,167.68 L360.90,166.85 L361.02,166.05 L361.14,165.30 L361.26,164.60 L361.38,163.98 L361.50,163.45 L361.62,163.03 L361.74,162.72 L361.86,162.54 L361.98,162.49 L362.10,162.56 L362.22,162.77 L362.34,163.09 L362.46,163.53 L362.58,164.08 L362.70,164.71 L362.82,165.42 L362.94,166.19 L363.06,166.99 L363.18,167.81 L363.30,168.64 L363.42,169.44 L363.54,170.20 L363.66,170.90 L363.78,171.52 L363.90,172.05 L364.02,172.48 L364.14,172.79 L364.26,172.98 L364.38,173.04 L364.50,172.97 L364.62,172.77 L364.74,172.45 L364.86,172.01 L364.98,171.47 L365.10,170.84 L365.22,170.14 L365.34,169.37 L365.46,168.57 L365.58,167.75 L365.70,166.92 L365.82,166.12 L365.94,165.36 L366.06,164.65 L366.18,164.03 L366.30,163.49 L366.42,163.06 L366.54,162.74 L366.66,162.55 L366.78,162.49 L366.90,162.55 L367.02,162.74 L367.14,163.06 L367.26,163.49 L367.38,164.03 L367.50,164.65 L367.62,165.36 L367.74,166.12 L367.86,166.92 L367.98,167.75 L368.10,168.57 L368.22,169.37 L368.34,170.14 L368.46,170.84 L368.58,171.47 L368.70,172.01 L368.82,172.45 L368.94,172.77 L369.06,172.97 L369.18,173.04 L369.30,172.98 L369.42,172.79 L369.54,172.48 L369.66,172.05 L369.78,171.52 L369.90,170.90 L370.02,170.20 L370.14,169.44 L370.26,168.64 L370.38,167.81 L370.50,166.99 L370.62,166.19 L370.74,165.42 L370.86,164.71 L370.98,164.08 L371.10,163.53 L371.22,163.09 L371.34,162.77 L371.46,162.56 L371.58,162.49 L371.70,162.54 L371.82,162.72 L371.94,163.03 L372.06,163.45 L372.18,163.98 L372.30,164.60 L372.42,165.30 L372.54,166.05 L372.66,166.85 L372.78,167.68 L372.90,168.50 L373.02,169.31 L373.14,170.08 L373.26,170.79 L373.38,171.43 L373.50,171.97 L373.62,172.42 L373.74,172.75 L373.86,172.96 L373.98,173.04 L374.10,172.99 L374.22,172.81 L374.34,172.51 L374.46,172.09 L374.58,171.57 L374.70,170.95 L374.82,170.26 L374.94,169.50 L375.06,168.71 L375.18,167.88 L375.30,167.06 L375.42,166.25 L375.54,165.48 L375.66,164.77 L375.78,164.13 L375.90,163.57 L376.02,163.12 L376.14,162.79 L376.26,162.58 L376.38,162.49 L376.50,162.53 L376.62,162.70 L376.74,163.00 L376.86,163.41 L376.98,163.93 L377.10,164.54 L377.22,165.24 L377.34,165.99 L377.46,166.79 L377.58,167.61 L377.70,168.43 L377.82,169.24 L377.94,170.01 L378.06,170.73 L378.18,171.38 L378.30,171.93 L378.42,172.38 L378.54,172.72 L378.66,172.94 L378.78,173.03 L378.90,173.00 L379.02,172.83 L379.14,172.54 L379.26,172.13 L379.38,171.62 L379.50,171.01 L379.62,170.32 L379.74,169.57 L379.86,168.77 L379.98,167.95 L380.10,167.13 L380.22,166.32 L380.34,165.54 L380.46,164.82 L380.58,164.18 L380.70,163.62 L380.82,163.16 L380.94,162.81 L381.06,162.59 L381.18,162.49 L381.30,162.52 L381.42,162.69 L381.54,162.97 L381.66,163.37 L381.78,163.88 L381.90,164.49 L382.02,165.18 L382.14,165.92 L382.26,166.72 L382.38,167.54 L382.50,168.36 L382.62,169.18 L382.74,169.95 L382.86,170.67 L382.98,171.32 L383.10,171.89 L383.22,172.35 L383.34,172.70 L383.46,172.93 L383.58,173.03 L383.70,173.01 L383.82,172.85 L383.94,172.57 L384.06,172.17 L384.18,171.67 L384.30,171.06 L384.42,170.38 L384.54,169.63 L384.66,168.84 L384.78,168.02 L384.90,167.20 L385.02,166.38 L385.14,165.61 L385.26,164.88 L385.38,164.23 L385.50,163.66 L385.62,163.19 L385.74,162.84 L385.86,162.60 L385.98,162.50 L386.10,162.52 L386.22,162.67 L386.34,162.94 L386.46,163.34 L386.58,163.84 L386.70,164.44 L386.82,165.12 L386.94,165.86 L387.06,166.65 L387.18,167.47 L387.30,168.30 L387.42,169.11 L387.54,169.89 L387.66,170.62 L387.78,171.27 L387.90,171.85 L388.02,172.32 L388.14,172.68 L388.26,172.92 L388.38,173.03 L388.50,173.01 L388.62,172.87 L388.74,172.60 L388.86,172.21 L388.98,171.71 L389.10,171.12 L389.22,170.44 L389.34,169.70 L389.46,168.91 L389.58,168.09 L389.70,167.26 L389.82,166.45 L389.94,165.67 L390.06,164.94 L390.18,164.28 L390.30,163.70 L390.42,163.23 L390.54,162.86 L390.66,162.62 L390.78,162.50 L390.90,162.51 L391.02,162.65 L391.14,162.91 L391.26,163.30 L391.38,163.79 L391.50,164.38 L391.62,165.06 L391.74,165.80 L391.86,166.58 L391.98,167.40 L392.10,168.23 L392.22,169.04 L392.34,169.83 L392.46,170.56 L392.58,171.22 L392.70,171.80 L392.82,172.28 L392.94,172.65 L393.06,172.90 L393.18,173.02 L393.30,173.02 L393.42,172.88 L393.54,172.62 L393.66,172.25 L393.78,171.76 L393.90,171.17 L394.02,170.50 L394.14,169.76 L394.26,168.98 L394.38,168.16 L394.50,167.33 L394.62,166.52 L394.74,165.73 L394.86,165.00 L394.98,164.33 L395.10,163.75 L395.22,163.26 L395.34,162.89 L395.46,162.63 L395.58,162.50 L395.70,162.50 L395.82,162.63 L395.94,162.89 L396.06,163.26 L396.18,163.75 L396.30,164.33 L396.42,165.00 L396.54,165.73 L396.66,166.52 L396.78,167.33 L396.90,168.16 L397.02,168.98 L397.14,169.76 L397.26,170.50 L397.38,171.17 L397.50,171.76 L397.62,172.25 L397.74,172.62 L397.86,172.88 L397.98,173.02 L398.10,173.02 L398.22,172.90 L398.34,172.65 L398.46,172.28 L398.58,171.80 L398.70,171.22 L398.82,170.56 L398.94,169.83 L399.06,169.04 L399.18,168.23 L399.30,167.40 L399.42,166.58 L399.54,165.80 L399.66,165.06 L399.78,164.38 L399.90,163.79" stroke="#ff0000" stroke-width="1.0"/>
<path d="M102.20,189.98 L102.32,191.43 L102.44,192.46 L102.56,193.04 L102.68,193.14 L102.80,192.77 L102.92,191.93 L103.04,190.66 L103.16,189.01 L103.28,187.03 L103.40,184.80 L103.52,182.40 L103.64,179.93 L103.76,177.47 L103.88,175.12 L104.00,172.96 L104.12,171.08 L104.24,169.53 L104.36,168.39 L104.48,167.68 L104.60,167.45 L104.72,167.68 L104.84,168.38 L104.96,169.52 L105.08,171.05 L105.20,172.89 L105.32,174.99 L105.44,177.25 L105.56,179.59 L105.68,181.92 L105.80,184.14 L105.92,186.19 L106.04,187.98 L106.16,189.44 L106.28,190.52 L106.40,191.18 L106.52,191.40 L106.64,191.18 L106.76,190.51 L106.88,189.44 L107.00,188.00 L107.12,186.25 L107.24,184.25 L107.36,182.07 L107.48,179.81 L107.60,177.53 L107.72,175.33 L107.84,173.28 L107.96,171.46 L108.08,169.92 L108.20,168.73 L108.32,167.91 L108.44,167.50 L108.56,167.50 L108.68,167.93 L108.80,168.76 L108.92,169.96 L109.04,171.47 L109.16,173.24 L109.28,175.20 L109.40,177.26 L109.52,179.34 L109.64,181.36 L109.76,183.23 L109.88,184.89 L110.00,186.27 L110.12,187.32 L110.24,187.99 L110.36,188.27 L110.48,188.13 L110.60,187.59 L110.72,186.68 L110.84,185.42 L110.96,183.87 L111.08,182.09 L111.20,180.15 L111.32,178.12 L111.44,176.09 L111.56,174.13 L111.68,172.32 L111.80,170.72 L111.92,169.40 L112.04,168.40 L112.16,167.76 L112.28,167.51 L112.40,167.61 L112.52,167.99 L112.64,168.66 L112.76,169.57 L112.88,170.70 L113.00,172.02 L113.12,173.48 L113.24,175.04 L113.36,176.65 L113.48,178.26 L113.60,179.82 L113.72,181.29 L113.84,182.61 L113.96,183.76 L114.08,184.70 L114.20,185.39 L114.32,185.82 L114.44,185.99 L114.56,185.88 L114.68,185.50 L114.80,184.86 L114.92,183.98 L115.04,182.90 L115.16,181.63 L115.28,180.22 L115.40,178.71 L115.52,177.15 L115.64,175.58 L115.76,174.05 L115.88,172.60 L116.00,171.28 L116.12,170.12 L116.24,169.15 L116.36,168.40 L116.48,167.89 L116.60,167.64 L116.72,167.64 L116.84,167.85 L116.96,168.27 L117.08,168.87 L117.20,169.65 L117.32,170.58 L117.44,171.64 L117.56,172.79 L117.68,174.02 L117.80,175.28 L117.92,176.55 L118.04,177.80 L118.16,178.98 L118.28,180.09 L118.40,181.08 L118.52,181.93 L118.64,182.62 L118.76,183.15 L118.88,183.48 L119.00,183.62 L119.12,183.57 L119.24,183.32 L119.36,182.89 L119.48,182.28 L119.60,181.54 L119.72,180.66 L119.84,179.65 L119.96,178.55 L120.08,177.38 L120.20,176.17 L120.32,174.94 L120.44,173.73 L120.56,172.56 L120.68,171.47 L120.80,170.48 L120.92,169.62 L121.04,168.90 L121.16,168.34 L121.28,167.96 L121.40,167.76 L121.52,167.74 L121.64,167.91 L121.76,168.27 L121.88,168.79 L122.00,169.48 L122.12,170.30 L122.24,171.24 L122.36,172.28 L122.48,173.39 L122.60,174.54 L122.72,175.71 L122.84,176.85 L122.96,177.96 L123.08,178.99 L123.20,179.93 L123.32,180.75 L123.44,181.43 L123.56,181.95 L123.68,182.31 L123.80,182.49 L123.92,182.48 L124.04,182.30 L124.16,181.94 L124.28,181.42 L124.40,180.74 L124.52,179.93 L124.64,179.01 L124.76,178.00 L124.88,176.91 L125.00,175.78 L125.12,174.64 L125.24,173.51 L125.36,172.41 L125.48,171.39 L125.60,170.45 L125.72,169.63 L125.84,168.94 L125.96,168.40 L126.08,168.03 L126.20,167.83 L126.32,167.80 L126.44,167.95 L126.56,168.27 L126.68,168.75 L126.80,169.38 L126.92,170.16 L127.04,171.04 L127.16,172.02 L127.28,173.07 L127.40,174.16 L127.52,175.27 L127.64,176.37 L127.76,177.43 L127.88,178.43 L128.00,179.34 L128.12,180.14 L128.24,180.81 L128.36,181.33 L128.48,181.69 L128.60,181.89 L128.72,181.91 L128.84,181.76 L128.96,181.44 L129.08,180.96 L129.20,180.33 L129.32,179.57 L129.44,178.70 L129.56,177.73 L129.68,176.69 L129.80,175.61 L129.92,174.51 L130.04,173.43 L130.16,172.37 L130.28,171.38 L130.40,170.48 L130.52,169.68 L130.64,169.01 L130.76,168.48 L130.88,168.11 L131.00,167.90 L131.12,167.86 L131.24,167.99 L131.36,168.28 L131.48,168.73 L131.60,169.33 L131.72,170.06 L131.84,170.90 L131.96,171.83 L132.08,172.83 L132.20,173.88 L132.32,174.94 L132.44,175.99 L132.56,177.01 L132.68,177.98 L132.80,178.85 L132.92,179.63 L133.04,180.28 L133.16,180.79 L133.28,181.15 L133.40,181.35 L133.52,181.38 L133.64,181.25 L133.76,180.96 L133.88,180.52 L134.00,179.93 L134.12,179.21 L134.24,178.38 L134.36,177.46 L134.48,176.47 L134.60,175.43 L134.72,174.38 L134.84,173.34 L134.96,172.33 L135.08,171.37 L135.20,170.50 L135.32,169.73 L135.44,169.07 L135.56,168.56 L135.68,168.19 L135.80,167.97 L135.92,167.92 L136.04,168.03 L136.16,168.30 L136.28,168.72 L136.40,169.28 L136.52,169.96 L136.64,170.76 L136.76,171.65 L136.88,172.60 L137.00,173.60 L137.12,174.61 L137.24,175.62 L137.36,176.60 L137.48,177.53 L137.60,178.37 L137.72,179.12 L137.84,179.75 L137.96,180.25 L138.08,180.61 L138.20,180.81 L138.32,180.86 L138.44,180.75 L138.56,180.48 L138.68,180.07 L138.80,179.51 L138.92,178.83 L139.04,178.05 L139.16,177.17 L139.28,176.23 L139.40,175.25 L139.52,174.24 L139.64,173.24 L139.76,172.27 L139.88,171.36 L140.00,170.51 L140.12,169.77 L140.24,169.13 L140.36,168.63 L140.48,168.26 L140.60,168.05 L140.72,167.98 L140.84,168.07 L140.96,168.32 L141.08,168.72 L141.20,169.27 L141.32,169.94 L141.44,170.71 L141.56,171.57 L141.68,172.49 L141.80,173.45 L141.92,174.42 L142.04,175.40 L142.16,176.34 L142.28,177.23 L142.40,178.05 L142.52,178.77 L142.64,179.38 L142.76,179.87 L142.88,180.22 L143.00,180.44 L143.12,180.50 L143.24,180.42 L143.36,180.19 L143.48,179.82 L143.60,179.33 L143.72,178.72 L143.84,178.01 L143.96,177.22 L144.08,176.37 L144.20,175.48 L144.32,174.57 L144.44,173.67 L144.56,172.80 L144.68,171.97 L144.80,171.22 L144.92,170.55 L145.04,169.98 L145.16,169.54 L145.28,169.22 L145.40,169.03 L145.52,168.99 L145.64,169.09" stroke="#0000ff" stroke-width="1.4"/>
<path d="M145.64,169.09 L145.76,169.32 L145.88,169.69 L146.00,170.17 L146.12,170.76 L146.24,171.45 L146.36,172.21 L146.48,173.03 L146.60,173.89 L146.72,174.77 L146.84,175.64 L146.96,176.48 L147.08,177.28 L147.20,178.02 L147.32,178.67 L147.44,179.22 L147.56,179.67 L147.68,179.99 L147.80,180.18 L147.92,180.25 L148.04,180.18 L148.16,179.99 L148.28,179.68 L148.40,179.25 L148.52,178.71 L148.64,178.08 L148.76,177.36 L148.88,176.59 L149.00,175.78 L149.12,174.94 L149.24,174.10 L149.36,173.28 L149.48,172.50 L149.60,171.78 L149.72,171.14 L149.84,170.58 L149.96,170.14 L150.08,169.81 L150.20,169.61 L150.32,169.54 L150.44,169.60 L150.56,169.79 L150.68,170.10 L150.80,170.54 L150.92,171.09 L151.04,171.73 L151.16,172.45 L151.28,173.23 L151.40,174.05 L151.52,174.90 L151.64,175.75 L151.76,176.58 L151.88,177.37 L152.00,178.10 L152.12,178.76 L152.24,179.33 L152.36,179.79 L152.48,180.13 L152.60,180.35 L152.72,180.44 L152.84,180.39 L152.96,180.22 L153.08,179.92 L153.20,179.49 L153.32,178.96 L153.44,178.34 L153.56,177.63 L153.68,176.86 L153.80,176.05 L153.92,175.21 L154.04,174.37 L154.16,173.55 L154.28,172.77 L154.40,172.04 L154.52,171.39 L154.64,170.83 L154.76,170.37 L154.88,170.04 L155.00,169.82 L155.12,169.74 L155.24,169.78 L155.36,169.96 L155.48,170.26 L155.60,170.68 L155.72,171.21 L155.84,171.84 L155.96,172.55 L156.08,173.32 L156.20,174.14 L156.32,174.98 L156.44,175.82 L156.56,176.65 L156.68,177.44 L156.80,178.18 L156.92,178.84 L157.04,179.41 L157.16,179.87 L157.28,180.22 L157.40,180.44 L157.52,180.54 L157.64,180.50 L157.76,180.33 L157.88,180.03 L158.00,179.62 L158.12,179.09 L158.24,178.47 L158.36,177.76 L158.48,176.99 L158.60,176.18 L158.72,175.34 L158.84,174.49 L158.96,173.66 L159.08,172.87 L159.20,172.13 L159.32,171.47 L159.44,170.90 L159.56,170.43 L159.68,170.08 L159.80,169.85 L159.92,169.75 L160.04,169.78 L160.16,169.95 L160.28,170.24 L160.40,170.65 L160.52,171.17 L160.64,171.79 L160.76,172.50 L160.88,173.26 L161.00,174.08 L161.12,174.92 L161.24,175.76 L161.36,176.59 L161.48,177.39 L161.60,178.13 L161.72,178.80 L161.84,179.37 L161.96,179.85 L162.08,180.21 L162.20,180.44 L162.32,180.55 L162.44,180.52 L162.56,180.36 L162.68,180.07 L162.80,179.67 L162.92,179.15 L163.04,178.53 L163.16,177.83 L163.28,177.07 L163.40,176.26 L163.52,175.42 L163.64,174.57 L163.76,173.74 L163.88,172.94 L164.00,172.20 L164.12,171.53 L164.24,170.95 L164.36,170.47 L164.48,170.11 L164.60,169.87 L164.72,169.76 L164.84,169.78 L164.96,169.94 L165.08,170.22 L165.20,170.62 L165.32,171.14 L165.44,171.75 L165.56,172.45 L165.68,173.21 L165.80,174.02 L165.92,174.86 L166.04,175.70 L166.16,176.54 L166.28,177.33 L166.40,178.08 L166.52,178.75 L166.64,179.34 L166.76,179.82 L166.88,180.19 L167.00,180.44 L167.12,180.55 L167.24,180.54 L167.36,180.39 L167.48,180.11 L167.60,179.71 L167.72,179.20 L167.84,178.60 L167.96,177.90 L168.08,177.14 L168.20,176.33 L168.32,175.50 L168.44,174.65 L168.56,173.82 L168.68,173.02 L168.80,172.27 L168.92,171.60 L169.04,171.01 L169.16,170.52 L169.28,170.15 L169.40,169.90 L169.52,169.78 L169.64,169.79 L169.76,169.93 L169.88,170.20 L170.00,170.59 L170.12,171.10 L170.24,171.71 L170.36,172.40 L170.48,173.15 L170.60,173.96 L170.72,174.80 L170.84,175.64 L170.96,176.48 L171.08,177.28 L171.20,178.03 L171.32,178.71 L171.44,179.30 L171.56,179.80 L171.68,180.18 L171.80,180.43 L171.92,180.56 L172.04,180.55 L172.16,180.42 L172.28,180.15 L172.40,179.76 L172.52,179.26 L172.64,178.66 L172.76,177.97 L172.88,177.22 L173.00,176.41 L173.12,175.58 L173.24,174.73 L173.36,173.90 L173.48,173.09 L173.60,172.34 L173.72,171.66 L173.84,171.06 L173.96,170.57 L174.08,170.18 L174.20,169.92 L174.32,169.79 L174.44,169.79 L174.56,169.92 L174.68,170.18 L174.80,170.57 L174.92,171.06 L175.04,171.66 L175.16,172.35 L175.28,173.10 L175.40,173.90 L175.52,174.74 L175.64,175.58 L175.76,176.42 L175.88,177.23 L176.00,177.98 L176.12,178.67 L176.24,179.27 L176.36,179.77 L176.48,180.16 L176.60,180.42 L176.72,180.56 L176.84,180.57 L176.96,180.44 L177.08,180.19 L177.20,179.81 L177.32,179.32 L177.44,178.72 L177.56,178.04 L177.68,177.29 L177.80,176.49 L177.92,175.66 L178.04,174.81 L178.16,173.98 L178.28,173.17 L178.40,172.41 L178.52,171.72 L178.64,171.12 L178.76,170.61 L178.88,170.22 L179.00,169.95 L179.12,169.81 L179.24,169.80 L179.36,169.92 L179.48,170.17 L179.60,170.54 L179.72,171.03 L179.84,171.62 L179.96,172.30 L180.08,173.04 L180.20,173.84 L180.32,174.68 L180.44,175.52 L180.56,176.36 L180.68,177.17 L180.80,177.93 L180.92,178.62 L181.04,179.23 L181.16,179.74 L181.28,180.14 L181.40,180.42 L181.52,180.57 L181.64,180.58 L181.76,180.47 L181.88,180.22 L182.00,179.85 L182.12,179.37 L182.24,178.79 L182.36,178.11 L182.48,177.37 L182.60,176.57 L182.72,175.74 L182.84,174.89 L182.96,174.06 L183.08,173.25 L183.20,172.48 L183.32,171.79 L183.44,171.18 L183.56,170.66 L183.68,170.26 L183.80,169.98 L183.92,169.82 L184.04,169.80 L184.16,169.91 L184.28,170.15 L184.40,170.52 L184.52,170.99 L184.64,171.58 L184.76,172.25 L184.88,172.99 L185.00,173.79 L185.12,174.62 L185.24,175.46 L185.36,176.30 L185.48,177.11 L185.60,177.88 L185.72,178.58 L185.84,179.20 L185.96,179.71 L186.08,180.12 L186.20,180.41 L186.32,180.57 L186.44,180.60 L186.56,180.49 L186.68,180.26 L186.80,179.90 L186.92,179.43 L187.04,178.85 L187.16,178.18 L187.28,177.44 L187.40,176.65 L187.52,175.82 L187.64,174.97 L187.76,174.13 L187.88,173.32 L188.00,172.55 L188.12,171.85 L188.24,171.23 L188.36,170.71 L188.48,170.30 L188.60,170.01 L188.72,169.84 L188.84,169.81 L188.96,169.91 L189.08,170.14 L189.20,170.49 L189.32,170.96 L189.44,171.53 L189.56,172.20 L189.68,172.93 L189.80,173.73 L189.92,174.56 L190.04,175.40 L190.16,176.24 L190.28,177.06 L190.40,177.83 L190.52,178.53 L190.64,179.16 L190.76,179.69 L190.88,180.10 L191.00,180.40 L191.12,180.57 L191.24,180.61 L191.36,180.52 L191.48,180.29 L191.60,179.94 L191.72,179.48 L191.84,178.91 L191.96,178.25 L192.08,177.52 L192.20,176.73 L192.32,175.90 L192.44,175.06 L192.56,174.21 L192.68,173.40 L192.80,172.63 L192.92,171.92 L193.04,171.29 L193.16,170.76 L193.28,170.34 L193.40,170.04 L193.52,169.86 L193.64,169.82 L193.76,169.91 L193.88,170.12 L194.00,170.47 L194.12,170.93 L194.24,171.49 L194.36,172.15 L194.48,172.88 L194.60,173.67 L194.72,174.50 L194.84,175.34 L194.96,176.18 L195.08,177.00 L195.20,177.78 L195.32,178.49 L195.44,179.12 L195.56,179.66 L195.68,180.08 L195.80,180.39 L195.92,180.57 L196.04,180.62 L196.16,180.54 L196.28,180.33 L196.40,179.99 L196.52,179.53 L196.64,178.97 L196.76,178.32 L196.88,177.59 L197.00,176.81 L197.12,175.98 L197.24,175.14 L197.36,174.29 L197.48,173.48 L197.60,172.70 L197.72,171.98 L197.84,171.35 L197.96,170.81 L198.08,170.38 L198.20,170.07 L198.32,169.88 L198.44,169.83 L198.56,169.90 L198.68,170.11 L198.80,170.44 L198.92,170.90 L199.04,171.45 L199.16,172.10 L199.28,172.83 L199.40,173.61 L199.52,174.44 L199.64,175.28 L199.76,176.12 L199.88,176.95 L200.00,177.72 L200.12,178.44 L200.24,179.08 L200.36,179.62 L200.48,180.06 L200.60,180.38 L200.72,180.57 L200.84,180.63 L200.96,180.56 L201.08,180.36 L201.20,180.03 L201.32,179.58 L201.44,179.03 L201.56,178.38 L201.68,177.66 L201.80,176.88 L201.92,176.06 L202.04,175.22 L202.16,174.38 L202.28,173.56 L202.40,172.78 L202.52,172.06 L202.64,171.42 L202.76,170.87 L202.88,170.43 L203.00,170.11 L203.12,169.91 L203.24,169.85 L203.36,169.91 L203.48,170.11 L203.60,170.43 L203.72,170.88 L203.84,171.42 L203.96,172.06 L204.08,172.78 L204.20,173.56 L204.32,174.38 L204.44,175.22 L204.56,176.06 L204.68,176.88 L204.80,177.66 L204.92,178.38 L205.04,179.03 L205.16,179.58 L205.28,180.02 L205.40,180.35 L205.52,180.55 L205.64,180.62 L205.76,180.56 L205.88,180.37 L206.00,180.05 L206.12,179.62 L206.24,179.08 L206.36,178.44 L206.48,177.73 L206.60,176.95 L206.72,176.14 L206.84,175.30 L206.96,174.46 L207.08,173.64 L207.20,172.86 L207.32,172.14 L207.44,171.49 L207.56,170.94 L207.68,170.49 L207.80,170.16 L207.92,169.95 L208.04,169.88 L208.16,169.93 L208.28,170.12 L208.40,170.43 L208.52,170.86 L208.64,171.40 L208.76,172.03 L208.88,172.74 L209.00,173.51 L209.12,174.33 L209.24,175.16 L209.36,176.00 L209.48,176.82 L209.60,177.60 L209.72,178.33 L209.84,178.98 L209.96,179.53 L210.08,179.98 L210.20,180.32 L210.32,180.53 L210.44,180.61 L210.56,180.56 L210.68,180.38 L210.80,180.08 L210.92,179.66 L211.04,179.12 L211.16,178.50 L211.28,177.79 L211.40,177.02 L211.52,176.21 L211.64,175.38 L211.76,174.54 L211.88,173.72 L212.00,172.94 L212.12,172.21 L212.24,171.56 L212.36,171.01 L212.48,170.55 L212.60,170.21 L212.72,169.99 L212.84,169.91 L212.96,169.95 L213.08,170.13 L213.20,170.43 L213.32,170.85 L213.44,171.37 L213.56,172.00 L213.68,172.70 L213.80,173.46 L213.92,174.27 L214.04,175.10 L214.16,175.94 L214.28,176.76 L214.40,177.54 L214.52,178.27 L214.64,178.92 L214.76,179.49 L214.88,179.95 L215.00,180.29 L215.12,180.51 L215.24,180.60 L215.36,180.57 L215.48,180.40 L215.60,180.10 L215.72,179.69 L215.84,179.17 L215.96,178.55 L216.08,177.85 L216.20,177.09 L216.32,176.29 L216.44,175.46 L216.56,174.62 L216.68,173.80 L216.80,173.02 L216.92,172.29 L217.04,171.64 L217.16,171.07 L217.28,170.61 L217.40,170.26 L217.52,170.04 L217.64,169.94 L217.76,169.97 L217.88,170.14 L218.00,170.42 L218.12,170.83 L218.24,171.35 L218.36,171.96 L218.48,172.66 L218.60,173.41 L218.72,174.22 L218.84,175.05 L218.96,175.88 L219.08,176.70 L219.20,177.48 L219.32,178.21 L219.44,178.87 L219.56,179.44 L219.68,179.91 L219.80,180.26 L219.92,180.49 L220.04,180.59 L220.16,180.57 L220.28,180.41 L220.40,180.13 L220.52,179.72 L220.64,179.21 L220.76,178.61 L220.88,177.92 L221.00,177.16 L221.12,176.36 L221.24,175.54 L221.36,174.71 L221.48,173.89 L221.60,173.10 L221.72,172.37 L221.84,171.71 L221.96,171.14 L222.08,170.67 L222.20,170.31 L222.32,170.08 L222.44,169.97 L222.56,169.99 L222.68,170.15 L222.80,170.42 L222.92,170.82 L223.04,171.33 L223.16,171.93 L223.28,172.62 L223.40,173.37 L223.52,174.16 L223.64,174.99 L223.76,175.82 L223.88,176.64 L224.00,177.42 L224.12,178.16 L224.24,178.82 L224.36,179.39 L224.48,179.87 L224.60,180.23 L224.72,180.47 L224.84,180.58 L224.96,180.57 L225.08,180.42 L225.20,180.15 L225.32,179.76 L225.44,179.26 L225.56,178.66 L225.68,177.98 L225.80,177.23 L225.92,176.44 L226.04,175.62 L226.16,174.79 L226.28,173.97 L226.40,173.18 L226.52,172.45 L226.64,171.79 L226.76,171.21 L226.88,170.73 L227.00,170.37 L227.12,170.12 L227.24,170.00 L227.36,170.02 L227.48,170.16 L227.60,170.42 L227.72,170.81 L227.84,171.31 L227.96,171.90 L228.08,172.58 L228.20,173.32 L228.32,174.11 L228.44,174.93 L228.56,175.76 L228.68,176.58 L228.80,177.36 L228.92,178.10 L229.04,178.76 L229.16,179.34 L229.28,179.83 L229.40,180.20 L229.52,180.45 L229.64,180.57 L229.76,180.56 L229.88,180.43 L230.00,180.17 L230.12,179.79 L230.24,179.30 L230.36,178.71 L230.48,178.04 L230.60,177.30 L230.72,176.51 L230.84,175.69 L230.96,174.87 L231.08,174.05 L231.20,173.27 L231.32,172.53 L231.44,171.86 L231.56,171.28 L231.68,170.79 L231.80,170.42 L231.92,170.17 L232.04,170.04 L232.16,170.04 L232.28,170.17 L232.40,170.42 L232.52,170.80 L232.64,171.28 L232.76,171.87 L232.88,172.54 L233.00,173.27 L233.12,174.06 L233.24,174.87 L233.36,175.70 L233.48,176.52 L233.60,177.30 L233.72,178.04 L233.84,178.71 L233.96,179.30 L234.08,179.79 L234.20,180.16 L234.32,180.42 L234.44,180.56 L234.56,180.56 L234.68,180.44 L234.80,180.19 L234.92,179.82 L235.04,179.34 L235.16,178.76 L235.28,178.10 L235.40,177.37 L235.52,176.59 L235.64,175.77 L235.76,174.95 L235.88,174.13 L236.00,173.35 L236.12,172.61 L236.24,171.94 L236.36,171.35 L236.48,170.86 L236.60,170.47 L236.72,170.21 L236.84,170.07 L236.96,170.06 L237.08,170.18 L237.20,170.43 L237.32,170.79 L237.44,171.27 L237.56,171.84 L237.68,172.50 L237.80,173.23 L237.92,174.01 L238.04,174.82 L238.16,175.64 L238.28,176.46 L238.40,177.24 L238.52,177.98 L238.64,178.66 L238.76,179.25 L238.88,179.74 L239.00,180.13 L239.12,180.40 L239.24,180.54 L239.36,180.56 L239.48,180.45 L239.60,180.21 L239.72,179.85 L239.84,179.38 L239.96,178.81 L240.08,178.16 L240.20,177.43 L240.32,176.66 L240.44,175.85 L240.56,175.03 L240.68,174.21 L240.80,173.43 L240.92,172.69 L241.04,172.01 L241.16,171.42 L241.28,170.92 L241.40,170.53 L241.52,170.26 L241.64,170.11 L241.76,170.09 L241.88,170.20 L242.00,170.43 L242.12,170.78 L242.24,171.25 L242.36,171.81 L242.48,172.46 L242.60,173.18 L242.72,173.96 L242.84,174.76 L242.96,175.58 L243.08,176.40 L243.20,177.18 L243.32,177.92 L243.44,178.60 L243.56,179.20 L243.68,179.70 L243.80,180.10 L243.92,180.37 L244.04,180.53 L244.16,180.56 L244.28,180.45 L244.40,180.23 L244.52,179.88 L244.64,179.42 L244.76,178.86 L244.88,178.22 L245.00,177.50 L245.12,176.73 L245.24,175.93 L245.36,175.11 L245.48,174.30 L245.60,173.51 L245.72,172.77 L245.84,172.09 L245.96,171.49 L246.08,170.98 L246.20,170.59 L246.32,170.30 L246.44,170.14 L246.56,170.11 L246.68,170.21 L246.80,170.43 L246.92,170.77 L247.04,171.23 L247.16,171.78 L247.28,172.43 L247.40,173.14 L247.52,173.90 L247.64,174.71 L247.76,175.52 L247.88,176.34 L248.00,177.12 L248.12,177.87 L248.24,178.55 L248.36,179.15 L248.48,179.66 L248.60,180.06 L248.72,180.35 L248.84,180.51 L248.96,180.55 L249.08,180.46 L249.20,180.24 L249.32,179.91 L249.44,179.46 L249.56,178.91 L249.68,178.27 L249.80,177.56 L249.92,176.80 L250.04,176.00 L250.16,175.19 L250.28,174.38 L250.40,173.59 L250.52,172.85 L250.64,172.16 L250.76,171.56 L250.88,171.05 L251.00,170.64 L251.12,170.35 L251.24,170.18 L251.36,170.14 L251.48,170.23 L251.60,170.44 L251.72,170.77 L251.84,171.21 L251.96,171.76 L252.08,172.39 L252.20,173.10 L252.32,173.86 L252.44,174.65 L252.56,175.47 L252.68,176.28 L252.80,177.06 L252.92,177.81 L253.04,178.49 L253.16,179.10 L253.28,179.62 L253.40,180.03 L253.52,180.32 L253.64,180.50 L253.76,180.54 L253.88,180.46 L254.00,180.26 L254.12,179.93 L254.24,179.50 L254.36,178.96 L254.48,178.33 L254.60,177.63 L254.72,176.87 L254.84,176.08 L254.96,175.27 L255.08,174.46 L255.20,173.67 L255.32,172.93 L255.44,172.24 L255.56,171.63 L255.68,171.11 L255.80,170.70 L255.92,170.40 L256.04,170.22 L256.16,170.17 L256.28,170.24 L256.40,170.44 L256.52,170.76 L256.64,171.20 L256.76,171.73 L256.88,172.36 L257.00,173.05 L257.12,173.81 L257.24,174.60 L257.36,175.41 L257.48,176.22 L257.60,177.00 L257.72,177.75 L257.84,178.44 L257.96,179.05 L258.08,179.57 L258.20,179.99 L258.32,180.30 L258.44,180.48 L258.56,180.54 L258.68,180.47 L258.80,180.27 L258.92,179.96 L259.04,179.53 L259.16,179.00 L259.28,178.38 L259.40,177.69 L259.52,176.94 L259.64,176.15 L259.76,175.35 L259.88,174.54 L260.00,173.75 L260.12,173.00 L260.24,172.32 L260.36,171.70 L260.48,171.18 L260.60,170.76 L260.72,170.45 L260.84,170.26 L260.96,170.20 L261.08,170.26 L261.20,170.45 L261.32,170.76 L261.44,171.18 L261.56,171.71 L261.68,172.32 L261.80,173.01 L261.92,173.76 L262.04,174.54 L262.16,175.35 L262.28,176.16 L262.40,176.94 L262.52,177.69 L262.64,178.38 L262.76,179.00 L262.88,179.53 L263.00,179.96 L263.12,180.27 L263.24,180.46 L263.36,180.53 L263.48,180.47 L263.60,180.29 L263.72,179.99 L263.84,179.57 L263.96,179.05 L264.08,178.44 L264.20,177.75 L264.32,177.01 L264.44,176.23 L264.56,175.42 L264.68,174.62 L264.80,173.83 L264.92,173.08 L265.04,172.39 L265.16,171.77 L265.28,171.24 L265.40,170.81 L265.52,170.50 L265.64,170.30 L265.76,170.23 L265.88,170.28 L266.00,170.46 L266.12,170.76 L266.24,171.17 L266.36,171.68 L266.48,172.29 L266.60,172.97 L266.72,173.71 L266.84,174.49 L266.96,175.29 L267.08,176.10 L267.20,176.89 L267.32,177.64 L267.44,178.33 L267.56,178.95 L267.68,179.49 L267.80,179.92 L267.92,180.24 L268.04,180.44 L268.16,180.52 L268.28,180.47 L268.40,180.30 L268.52,180.01 L268.64,179.60 L268.76,179.09 L268.88,178.49 L269.00,177.82 L269.12,177.08 L269.24,176.30 L269.36,175.50 L269.48,174.70 L269.60,173.91 L269.72,173.16 L269.84,172.47 L269.96,171.84 L270.08,171.31 L270.20,170.87 L270.32,170.55 L270.44,170.34 L270.56,170.26 L270.68,170.30 L270.80,170.47 L270.92,170.75 L271.04,171.16 L271.16,171.66 L271.28,172.26 L271.40,172.93 L271.52,173.66 L271.64,174.44 L271.76,175.24 L271.88,176.04 L272.00,176.83 L272.12,177.58 L272.24,178.27 L272.36,178.90 L272.48,179.44 L272.60,179.88 L272.72,180.21 L272.84,180.42 L272.96,180.51 L273.08,180.48 L273.20,180.31 L273.32,180.03 L273.44,179.64 L273.56,179.14 L273.68,178.54 L273.80,177.88 L273.92,177.15 L274.04,176.37 L274.16,175.58 L274.28,174.78 L274.40,173.99 L274.52,173.24 L274.64,172.54 L274.76,171.92 L274.88,171.37 L275.00,170.93 L275.12,170.60 L275.24,170.38 L275.36,170.29 L275.48,170.32 L275.60,170.48 L275.72,170.75 L275.84,171.14 L275.96,171.64 L276.08,172.23 L276.20,172.89 L276.32,173.62 L276.44,174.39 L276.56,175.18 L276.68,175.98 L276.80,176.77 L276.92,177.52 L277.04,178.22 L277.16,178.85 L277.28,179.40 L277.40,179.84 L277.52,180.18 L277.64,180.40 L277.76,180.50 L277.88,180.48 L278.00,180.33 L278.12,180.05 L278.24,179.67 L278.36,179.18 L278.48,178.60 L278.60,177.94 L278.72,177.21 L278.84,176.45 L278.96,175.66 L279.08,174.86 L279.20,174.07 L279.32,173.32 L279.44,172.62 L279.56,171.99 L279.68,171.44 L279.80,170.99 L279.92,170.65 L280.04,170.42 L280.16,170.32 L280.28,170.34 L280.40,170.49 L280.52,170.75 L280.64,171.13 L280.76,171.62 L280.88,172.20 L281.00,172.85 L281.12,173.57 L281.24,174.34 L281.36,175.13 L281.48,175.93 L281.60,176.71 L281.72,177.46 L281.84,178.16 L281.96,178.80 L282.08,179.35 L282.20,179.80 L282.32,180.15 L282.44,180.38 L282.56,180.49 L282.68,180.48 L282.80,180.34 L282.92,180.07 L283.04,179.70 L283.16,179.22 L283.28,178.65 L283.40,178.00 L283.52,177.28 L283.64,176.52 L283.76,175.73 L283.88,174.94 L284.00,174.15 L284.12,173.40 L284.24,172.70 L284.36,172.06 L284.48,171.51 L284.60,171.05 L284.72,170.70 L284.84,170.47 L284.96,170.35 L285.08,170.36 L285.20,170.50 L285.32,170.75 L285.44,171.12 L285.56,171.60 L285.68,172.17 L285.80,172.82 L285.92,173.53 L286.04,174.29 L286.16,175.07 L286.28,175.87 L286.40,176.65 L286.52,177.40 L286.64,178.11 L286.76,178.75 L286.88,179.30 L287.00,179.77 L287.12,180.12 L287.24,180.36 L287.36,180.48 L287.48,180.47 L287.60,180.34 L287.72,180.09 L287.84,179.73 L287.96,179.26 L288.08,178.70 L288.20,178.05 L288.32,177.35 L288.44,176.59 L288.56,175.81 L288.68,175.01 L288.80,174.23 L288.92,173.48 L289.04,172.77 L289.16,172.13 L289.28,171.58 L289.40,171.11 L289.52,170.75 L289.64,170.51 L289.76,170.39 L289.88,170.39 L290.00,170.51 L290.12,170.76 L290.24,171.12 L290.36,171.58 L290.48,172.14 L290.60,172.78 L290.72,173.49 L290.84,174.24 L290.96,175.02 L291.08,175.81 L291.20,176.59 L291.32,177.35 L291.44,178.05 L291.56,178.70 L291.68,179.26 L291.80,179.73 L291.92,180.09 L292.04,180.34 L292.16,180.47 L292.28,180.47 L292.40,180.35 L292.52,180.11 L292.64,179.76 L292.76,179.30 L292.88,178.75 L293.00,178.11 L293.12,177.41 L293.24,176.66 L293.36,175.88 L293.48,175.09 L293.60,174.31 L293.72,173.56 L293.84,172.85 L293.96,172.21 L294.08,171.64 L294.20,171.17 L294.32,170.81 L294.44,170.55 L294.56,170.42 L294.68,170.41 L294.80,170.52 L294.92,170.76 L295.04,171.11 L295.16,171.56 L295.28,172.11 L295.40,172.74 L295.52,173.44 L295.64,174.19 L295.76,174.97 L295.88,175.76 L296.00,176.54 L296.12,177.29 L296.24,178.00 L296.36,178.64 L296.48,179.21 L296.60,179.69 L296.72,180.06 L296.84,180.31 L296.96,180.45 L297.08,180.47 L297.20,180.36 L297.32,180.13 L297.44,179.79 L297.56,179.34 L297.68,178.79 L297.80,178.17 L297.92,177.47 L298.04,176.73 L298.16,175.96 L298.28,175.17 L298.40,174.39 L298.52,173.64 L298.64,172.93 L298.76,172.28 L298.88,171.71 L299.00,171.23 L299.12,170.86 L299.24,170.60 L299.36,170.46 L299.48,170.44 L299.60,170.54 L299.72,170.76 L299.84,171.10 L299.96,171.55 L300.08,172.09 L300.20,172.71 L300.32,173.40 L300.44,174.14 L300.56,174.91 L300.68,175.70 L300.80,176.48 L300.92,177.23 L301.04,177.94 L301.16,178.59 L301.28,179.17 L301.40,179.65 L301.52,180.03 L301.64,180.29 L301.76,180.44 L301.88,180.47 L302.00,180.37 L302.12,180.15 L302.24,179.82 L302.36,179.38 L302.48,178.84 L302.60,178.22 L302.72,177.53 L302.84,176.80 L302.96,176.03 L303.08,175.24 L303.20,174.46 L303.32,173.70 L303.44,172.99 L303.56,172.34 L303.68,171.76 L303.80,171.28 L303.92,170.90 L304.04,170.62 L304.16,170.47 L304.28,170.44 L304.40,170.53 L304.52,170.75 L304.64,171.07 L304.76,171.51 L304.88,172.04 L305.00,172.66 L305.12,173.34 L305.24,174.08 L305.36,174.85 L305.48,175.63 L305.60,176.41 L305.72,177.17 L305.84,177.89 L305.96,178.54 L306.08,179.12 L306.20,179.61 L306.32,180.00 L306.44,180.27 L306.56,180.43 L306.68,180.47 L306.80,180.38 L306.92,180.17 L307.04,179.85 L307.16,179.42 L307.28,178.89 L307.40,178.28 L307.52,177.59 L307.64,176.86 L307.76,176.09 L307.88,175.31 L308.00,174.53 L308.12,173.77 L308.24,173.05 L308.36,172.40 L308.48,171.81 L308.60,171.32 L308.72,170.93 L308.84,170.65 L308.96,170.49 L309.08,170.45 L309.20,170.53 L309.32,170.73 L309.44,171.05 L309.56,171.48 L309.68,172.00 L309.80,172.61 L309.92,173.29 L310.04,174.02 L310.16,174.79 L310.28,175.57 L310.40,176.35 L310.52,177.11 L310.64,177.83 L310.76,178.49 L310.88,179.07 L311.00,179.57 L311.12,179.97 L311.24,180.25 L311.36,180.42 L311.48,180.46 L311.60,180.39 L311.72,180.19 L311.84,179.88 L311.96,179.45 L312.08,178.93 L312.20,178.33 L312.32,177.65 L312.44,176.92 L312.56,176.16 L312.68,175.37 L312.80,174.59 L312.92,173.83 L313.04,173.11 L313.16,172.45 L313.28,171.86 L313.40,171.36 L313.52,170.96 L313.64,170.67 L313.76,170.50 L313.88,170.45 L314.00,170.52 L314.12,170.71 L314.24,171.02 L314.36,171.44 L314.48,171.96 L314.60,172.56 L314.72,173.23 L314.84,173.96 L314.96,174.72 L315.08,175.51 L315.20,176.29 L315.32,177.05 L315.44,177.77 L315.56,178.43 L315.68,179.03 L315.80,179.53 L315.92,179.93 L316.04,180.23 L316.16,180.41 L316.28,180.46 L316.40,180.40 L316.52,180.21 L316.64,179.90 L316.76,179.49 L316.88,178.98 L317.00,178.38 L317.12,177.71 L317.24,176.99 L317.36,176.22 L317.48,175.44 L317.60,174.66 L317.72,173.90 L317.84,173.18 L317.96,172.51 L318.08,171.91 L318.20,171.41 L318.32,171.00 L318.44,170.70 L318.56,170.52 L318.68,170.46 L318.80,170.52 L318.92,170.70 L319.04,171.00 L319.16,171.41 L319.28,171.92 L319.40,172.51 L319.52,173.18 L319.64,173.90 L319.76,174.66 L319.88,175.44 L320.00,176.22 L320.12,176.99 L320.24,177.71 L320.36,178.38 L320.48,178.98 L320.60,179.49 L320.72,179.90 L320.84,180.21 L320.96,180.39 L321.08,180.46 L321.20,180.40 L321.32,180.22 L321.44,179.93 L321.56,179.53 L321.68,179.02 L321.80,178.43 L321.92,177.77 L322.04,177.05 L322.16,176.29 L322.28,175.51 L322.40,174.73 L322.52,173.96 L322.64,173.24 L322.76,172.57 L322.88,171.97 L323.00,171.45 L323.12,171.03 L323.24,170.73 L323.36,170.53 L323.48,170.46 L323.60,170.51 L323.72,170.69 L323.84,170.98 L323.96,171.38 L324.08,171.87 L324.20,172.46 L324.32,173.12 L324.44,173.84 L324.56,174.60 L324.68,175.38 L324.80,176.16 L324.92,176.92 L325.04,177.65 L325.16,178.33 L325.28,178.93 L325.40,179.45 L325.52,179.87 L325.64,180.18 L325.76,180.38 L325.88,180.45 L326.00,180.41 L326.12,180.24 L326.24,179.96 L326.36,179.56 L326.48,179.07 L326.60,178.48 L326.72,177.83 L326.84,177.11 L326.96,176.35 L327.08,175.57 L327.20,174.79 L327.32,174.03 L327.44,173.30 L327.56,172.62 L327.68,172.02 L327.80,171.50 L327.92,171.07 L328.04,170.75 L328.16,170.55 L328.28,170.47 L328.40,170.51 L328.52,170.67 L328.64,170.95 L328.76,171.34 L328.88,171.83 L329.00,172.41 L329.12,173.07 L329.24,173.78 L329.36,174.54 L329.48,175.31 L329.60,176.10 L329.72,176.86 L329.84,177.59 L329.96,178.27 L330.08,178.88 L330.20,179.41 L330.32,179.84 L330.44,180.16 L330.56,180.36 L330.68,180.45 L330.80,180.41 L330.92,180.26 L331.04,179.98 L331.16,179.60 L331.28,179.11 L331.40,178.53 L331.52,177.88 L331.64,177.17 L331.76,176.42 L331.88,175.64 L332.00,174.86 L332.12,174.10 L332.24,173.36 L332.36,172.68 L332.48,172.07 L332.60,171.54 L332.72,171.11 L332.84,170.78 L332.96,170.57 L333.08,170.48 L333.20,170.51 L333.32,170.66 L333.44,170.93 L333.56,171.31 L333.68,171.79 L333.80,172.37 L333.92,173.02 L334.04,173.72 L334.16,174.48 L334.28,175.25 L334.40,176.03 L334.52,176.80 L334.64,177.53 L334.76,178.22 L334.88,178.83 L335.00,179.36 L335.12,179.80 L335.24,180.13 L335.36,180.35 L335.48,180.44 L335.60,180.42 L335.72,180.27 L335.84,180.01 L335.96,179.63 L336.08,179.15 L336.20,178.58 L336.32,177.94 L336.44,177.23 L336.56,176.48 L336.68,175.71 L336.80,174.93 L336.92,174.16 L337.04,173.43 L337.16,172.74 L337.28,172.12 L337.40,171.59 L337.52,171.14 L337.64,170.81 L337.76,170.59 L337.88,170.49 L338.00,170.51 L338.12,170.65 L338.24,170.91 L338.36,171.28 L338.48,171.76 L338.60,172.32 L338.72,172.96 L338.84,173.67 L338.96,174.41 L339.08,175.19 L339.20,175.97 L339.32,176.74 L339.44,177.47 L339.56,178.16 L339.68,178.78 L339.80,179.32 L339.92,179.77 L340.04,180.11 L340.16,180.33 L340.28,180.44 L340.40,180.42 L340.52,180.29 L340.64,180.03 L340.76,179.66 L340.88,179.19 L341.00,178.63 L341.12,177.99 L341.24,177.29 L341.36,176.55 L341.48,175.77 L341.60,174.99 L341.72,174.23 L341.84,173.49 L341.96,172.80 L342.08,172.18 L342.20,171.63 L342.32,171.18 L342.44,170.84 L342.56,170.61 L342.68,170.50 L342.80,170.51 L342.92,170.64 L343.04,170.89 L343.16,171.25 L343.28,171.72 L343.40,172.28 L343.52,172.91 L343.64,173.61 L343.76,174.35 L343.88,175.12 L344.00,175.90 L344.12,176.67 L344.24,177.41 L344.36,178.10 L344.48,178.73 L344.60,179.28 L344.72,179.73 L344.84,180.08 L344.96,180.31 L345.08,180.43 L345.20,180.43 L345.32,180.30 L345.44,180.05 L345.56,179.70 L345.68,179.23 L345.80,178.68 L345.92,178.05 L346.04,177.35 L346.16,176.61 L346.28,175.84 L346.40,175.06 L346.52,174.29 L346.64,173.55 L346.76,172.86 L346.88,172.23 L347.00,171.68 L347.12,171.22 L347.24,170.87 L347.36,170.63 L347.48,170.51 L347.60,170.51 L347.72,170.63 L347.84,170.87 L347.96,171.22 L348.08,171.68 L348.20,172.23 L348.32,172.86 L348.44,173.55 L348.56,174.29 L348.68,175.06 L348.80,175.84 L348.92,176.61 L349.04,177.35 L349.16,178.05 L349.28,178.68 L349.40,179.23 L349.52,179.69 L349.64,180.05 L349.76,180.30 L349.88,180.42 L350.00,180.43 L350.12,180.31 L350.24,180.08 L350.36,179.73 L350.48,179.27 L350.60,178.73 L350.72,178.10 L350.84,177.41 L350.96,176.67 L351.08,175.91 L351.20,175.13 L351.32,174.36 L351.44,173.62 L351.56,172.92 L351.68,172.28 L351.80,171.73 L351.92,171.26 L352.04,170.90 L352.16,170.65 L352.28,170.52 L352.40,170.51 L352.52,170.62 L352.64,170.85 L352.76,171.20 L352.88,171.64 L353.00,172.19 L353.12,172.81 L353.24,173.50 L353.36,174.23 L353.48,175.00 L353.60,175.78 L353.72,176.55 L353.84,177.29 L353.96,177.99 L354.08,178.63 L354.20,179.19 L354.32,179.66 L354.44,180.02 L354.56,180.28 L354.68,180.41 L354.80,180.43 L354.92,180.32 L355.04,180.10 L355.16,179.76 L355.28,179.31 L355.40,178.78 L355.52,178.16 L355.64,177.47 L355.76,176.74 L355.88,175.97 L356.00,175.19 L356.12,174.42 L356.24,173.68 L356.36,172.98 L356.48,172.34 L356.60,171.77 L356.72,171.30 L356.84,170.93 L356.96,170.67 L357.08,170.53 L357.20,170.51 L357.32,170.61 L357.44,170.83 L357.56,171.17 L357.68,171.61 L357.80,172.14 L357.92,172.76 L358.04,173.44 L358.16,174.17 L358.28,174.94 L358.40,175.71 L358.52,176.48 L358.64,177.23 L358.76,177.93 L358.88,178.58 L359.00,179.14 L359.12,179.62 L359.24,179.99 L359.36,180.26 L359.48,180.40 L359.60,180.43 L359.72,180.33 L359.84,180.12 L359.96,179.79 L360.08,179.35 L360.20,178.82 L360.32,178.21 L360.44,177.53 L360.56,176.80 L360.68,176.04 L360.80,175.26 L360.92,174.49 L361.04,173.74 L361.16,173.04 L361.28,172.39 L361.40,171.82 L361.52,171.34 L361.64,170.96 L361.76,170.70 L361.88,170.54 L362.00,170.51 L362.12,170.61 L362.24,170.82 L362.36,171.14 L362.48,171.57 L362.60,172.10 L362.72,172.71 L362.84,173.38 L362.96,174.11 L363.08,174.87 L363.20,175.65 L363.32,176.42 L363.44,177.17 L363.56,177.88 L363.68,178.52 L363.80,179.10 L363.92,179.58 L364.04,179.96 L364.16,180.24 L364.28,180.39 L364.40,180.43 L364.52,180.34 L364.64,180.14 L364.76,179.82 L364.88,179.39 L365.00,178.87 L365.12,178.26 L365.24,177.59 L365.36,176.86 L365.48,176.10 L365.60,175.33 L365.72,174.56 L365.84,173.81 L365.96,173.10 L366.08,172.45 L366.20,171.87 L366.32,171.38 L366.44,171.00 L366.56,170.72 L366.68,170.56 L366.80,170.52 L366.92,170.60 L367.04,170.80 L367.16,171.12 L367.28,171.54 L367.40,172.06 L367.52,172.66 L367.64,173.33 L367.76,174.05 L367.88,174.81 L368.00,175.59 L368.12,176.36 L368.24,177.11 L368.36,177.82 L368.48,178.47 L368.60,179.05 L368.72,179.54 L368.84,179.93 L368.96,180.22 L369.08,180.38 L369.20,180.43 L369.32,180.35 L369.44,180.16 L369.56,179.85 L369.68,179.43 L369.80,178.91 L369.92,178.31 L370.04,177.65 L370.16,176.92 L370.28,176.17 L370.40,175.39 L370.52,174.62 L370.64,173.87 L370.76,173.16 L370.88,172.50 L371.00,171.92 L371.12,171.43 L371.24,171.03 L371.36,170.74 L371.48,170.57 L371.60,170.52 L371.72,170.59 L371.84,170.79 L371.96,171.09 L372.08,171.50 L372.20,172.01 L372.32,172.61 L372.44,173.28 L372.56,173.99 L372.68,174.75 L372.80,175.52 L372.92,176.30 L373.04,177.05 L373.16,177.76 L373.28,178.42 L373.40,179.00 L373.52,179.50 L373.64,179.90 L373.76,180.19 L373.88,180.37 L374.00,180.43 L374.12,180.36 L374.24,180.17 L374.36,179.87 L374.48,179.46 L374.60,178.96 L374.72,178.37 L374.84,177.70 L374.96,176.99 L375.08,176.23 L375.20,175.46 L375.32,174.69 L375.44,173.93 L375.56,173.22 L375.68,172.56 L375.80,171.97 L375.92,171.47 L376.04,171.07 L376.16,170.77 L376.28,170.59 L376.40,170.53 L376.52,170.59 L376.64,170.77 L376.76,171.07 L376.88,171.47 L377.00,171.97 L377.12,172.56 L377.24,173.22 L377.36,173.94 L377.48,174.69 L377.60,175.46 L377.72,176.23 L377.84,176.99 L377.96,177.70 L378.08,178.37 L378.20,178.96 L378.32,179.46 L378.44,179.87 L378.56,180.17 L378.68,180.36 L378.80,180.42 L378.92,180.37 L379.04,180.19 L379.16,179.90 L379.28,179.50 L379.40,179.00 L379.52,178.42 L379.64,177.76 L379.76,177.05 L379.88,176.30 L380.00,175.53 L380.12,174.75 L380.24,174.00 L380.36,173.28 L380.48,172.62 L380.60,172.02 L380.72,171.51 L380.84,171.10 L380.96,170.80 L381.08,170.61 L381.20,170.54 L381.32,170.59 L381.44,170.76 L381.56,171.04 L381.68,171.44 L381.80,171.93 L381.92,172.51 L382.04,173.17 L382.16,173.88 L382.28,174.63 L382.40,175.40 L382.52,176.17 L382.64,176.93 L382.76,177.65 L382.88,178.31 L383.00,178.91 L383.12,179.42 L383.24,179.84 L383.36,180.15 L383.48,180.34 L383.60,180.42 L383.72,180.37 L383.84,180.21 L383.96,179.93 L384.08,179.54 L384.20,179.05 L384.32,178.47 L384.44,177.82 L384.56,177.11 L384.68,176.36 L384.80,175.59 L384.92,174.82 L385.04,174.06 L385.16,173.34 L385.28,172.67 L385.40,172.07 L385.52,171.56 L385.64,171.14 L385.76,170.82 L385.88,170.62 L386.00,170.54 L386.12,170.58 L386.24,170.74 L386.36,171.02 L386.48,171.41 L386.60,171.89 L386.72,172.47 L386.84,173.11 L386.96,173.82 L387.08,174.57 L387.20,175.33 L387.32,176.11 L387.44,176.86 L387.56,177.59 L387.68,178.26 L387.80,178.86 L387.92,179.38 L388.04,179.81 L388.16,180.12 L388.28,180.33 L388.40,180.41 L388.52,180.38 L388.64,180.22 L388.76,179.95 L388.88,179.57 L389.00,179.09 L389.12,178.52 L389.24,177.87 L389.36,177.17 L389.48,176.43 L389.60,175.66 L389.72,174.89 L389.84,174.13 L389.96,173.40 L390.08,172.73 L390.20,172.13 L390.32,171.60 L390.44,171.17 L390.56,170.85 L390.68,170.64 L390.80,170.55 L390.92,170.58 L391.04,170.73 L391.16,171.00 L391.28,171.38 L391.40,171.85 L391.52,172.42 L391.64,173.06 L391.76,173.76 L391.88,174.51 L392.00,175.27 L392.12,176.04 L392.24,176.80 L392.36,177.53 L392.48,178.20 L392.60,178.81 L392.72,179.34 L392.84,179.77 L392.96,180.10 L393.08,180.31 L393.20,180.41 L393.32,180.38 L393.44,180.24 L393.56,179.98 L393.68,179.60 L393.80,179.13 L393.92,178.57 L394.04,177.93 L394.16,177.23 L394.28,176.49 L394.40,175.72 L394.52,174.95 L394.64,174.19 L394.76,173.47 L394.88,172.79 L395.00,172.18 L395.12,171.65 L395.24,171.21 L395.36,170.88 L395.48,170.66 L395.60,170.56 L395.72,170.58 L395.84,170.72 L395.96,170.98 L396.08,171.35 L396.20,171.82 L396.32,172.37 L396.44,173.01 L396.56,173.71 L396.68,174.44 L396.80,175.21 L396.92,175.98 L397.04,176.74 L397.16,177.47 L397.28,178.15 L397.40,178.76 L397.52,179.30 L397.64,179.74 L397.76,180.07 L397.88,180.30 L398.00,180.40 L398.12,180.39 L398.24,180.25 L398.36,180.00 L398.48,179.64 L398.60,179.17 L398.72,178.62 L398.84,177.98 L398.96,177.29 L399.08,176.55 L399.20,175.79 L399.32,175.02 L399.44,174.26 L399.56,173.53 L399.68,172.85 L399.80,172.23 L399.92,171.69" stroke="#0000ff" stroke-width="1.0"/>
<path d="M100.50,208.00 L100.55,206.96 L100.60,205.90 L100.65,204.82 L100.70,203.73 L100.75,202.63 L100.80,201.51 L100.85,200.37 L100.90,199.22 L100.95,198.05 L101.00,196.87 L101.05,195.67 L101.10,194.46 L101.15,193.24 L101.20,192.00 L101.25,190.74 L101.30,189.45 L101.35,188.14 L101.40,186.81 L101.45,185.46 L101.50,184.09 L101.55,182.71 L101.60,181.31 L101.65,179.91 L101.70,178.49 L101.75,177.08 L101.80,175.66 L101.85,174.24 L101.90,172.82 L101.95,171.41 L102.00,170.00 L102.05,168.57 L102.10,167.10 L102.15,165.59 L102.20,164.05 L102.25,162.51 L102.30,160.97 L102.35,159.43 L102.40,157.93 L102.45,156.45 L102.50,155.02 L102.55,153.65 L102.60,152.35 L102.65,151.13 L102.70,150.00 L102.75,148.89 L102.80,147.72 L102.85,146.54 L102.90,145.36 L102.95,144.22 L103.00,143.13 L103.05,142.14 L103.10,141.26 L103.15,140.53 L103.20,139.98 L103.25,139.62 L103.30,139.50 L103.35,139.67 L103.40,140.16 L103.45,140.91 L103.50,141.89 L103.55,143.05 L103.60,144.35 L103.65,145.73 L103.70,147.17 L103.75,148.60 L103.80,150.00 L103.85,151.52 L103.90,153.30 L103.95,155.27 L104.00,157.34 L104.05,159.43 L104.10,161.46 L104.15,163.34 L104.20,165.00 L104.25,166.51 L104.30,168.00 L104.35,169.46 L104.40,170.88 L104.45,172.25 L104.50,173.58 L104.55,174.84 L104.60,176.04 L104.65,177.16 L104.70,178.20 L104.75,179.15 L104.80,180.00 L104.85,180.79 L104.90,181.55 L104.95,182.28 L105.00,182.97 L105.05,183.62 L105.10,184.22 L105.15,184.76 L105.20,185.24 L105.25,185.66 L105.30,186.00" stroke="#ff00ff" stroke-width="1.05"/>
<path d="M105.30,186.24 L105.40,183.96 L105.50,182.34 L105.60,179.78 L105.70,177.70 L105.80,174.46 L105.90,172.19 L106.00,169.02 L106.10,166.47 L106.20,163.21 L106.30,160.75 L106.40,157.82 L106.50,156.00 L106.60,153.81 L106.70,152.96 L106.80,151.27 L106.90,150.69 L107.00,149.30 L107.10,148.92 L107.20,147.70 L107.30,147.20 L107.40,146.04 L107.50,145.69 L107.60,144.70 L107.70,144.50 L107.80,143.38 L107.90,143.05 L108.00,141.80 L108.10,141.28 L108.20,139.21 L108.30,137.74 L108.40,136.13 L108.50,136.20 L108.60,135.21 L108.70,135.36 L108.80,134.70 L108.90,134.75 L109.00,134.10 L109.10,134.43 L109.20,133.90 L109.30,134.18 L109.40,133.52 L109.50,133.82 L109.60,133.24 L109.70,133.42 L109.80,132.83 L109.90,132.85 L110.00,132.11 L110.10,132.20 L110.20,131.25" stroke="#ff00ff" stroke-width="2.0" stroke-linecap="round"/>
<path d="M110.20,131.25 L110.30,130.94 L110.40,129.62 L110.50,128.99 L110.60,127.55 L110.70,126.65 L110.80,125.11 L110.90,124.24 L111.00,122.39 L111.10,121.53 L111.20,119.86 L111.30,119.17 L111.40,117.62 L111.50,117.06 L111.60,115.75 L111.70,115.38 L111.80,114.21 L111.90,113.93 L112.00,112.67 L112.10,112.40 L112.20,111.25 L112.30,111.04 L112.40,109.95 L112.50,109.93 L112.60,108.80 L112.70,108.62 L112.80,107.41 L112.90,107.33 L113.00,106.24 L113.10,106.36 L113.20,105.07 L113.30,105.18 L113.40,103.95 L113.50,103.86 L113.60,102.69 L113.70,102.65 L113.80,101.46 L113.90,101.68 L114.00,100.13 L114.10,100.25 L114.20,98.97 L114.30,99.24 L114.40,97.65 L114.50,98.05 L114.60,96.39 L114.70,96.69 L114.80,95.03 L114.90,95.62 L115.00,93.99 L115.10,94.38 L115.20,92.74 L115.30,93.32 L115.40,91.66 L115.50,92.18 L115.60,90.89 L115.70,91.48 L115.80,89.75 L115.90,90.53 L116.00,89.00 L116.10,89.99 L116.20,88.28 L116.30,89.25 L116.40,87.40 L116.50,88.39 L116.60,86.96 L116.70,87.63 L116.80,86.42 L116.90,86.94 L117.00,85.23 L117.10,86.62 L117.20,84.99 L117.30,85.83 L117.40,84.10 L117.50,85.20 L117.60,83.35 L117.70,84.44 L117.80,82.55 L117.90,83.98 L118.00,82.19 L118.10,83.58 L118.20,81.95 L118.30,82.74 L118.40,81.33 L118.50,82.78 L118.60,80.63 L118.70,82.39 L118.80,80.72 L118.90,82.19 L119.00,79.89 L119.10,81.87 L119.20,79.76 L119.30,81.62 L119.40,79.79 L119.50,80.68 L119.60,79.49 L119.70,80.53 L119.80,78.96 L119.90,80.14 L120.00,78.32 L120.10,79.63 L120.20,77.88 L120.30,79.27 L120.40,77.33 L120.50,78.65 L120.60,77.07 L120.70,78.79 L120.80,76.29 L120.90,78.06 L121.00,75.55 L121.10,77.23 L121.20,75.22 L121.30,76.51 L121.40,74.64 L121.50,75.99 L121.60,73.23 L121.70,75.36 L121.80,73.30 L121.90,74.34 L122.00,72.51 L122.10,73.65 L122.20,71.82 L122.30,73.79 L122.40,71.73 L122.50,73.56 L122.60,71.12 L122.70,72.81 L122.80,71.03 L122.90,73.33 L123.00,71.45 L123.10,73.11 L123.20,71.16 L123.30,73.22 L123.40,71.69 L123.50,73.39 L123.60,71.42 L123.70,73.66 L123.80,71.42 L123.90,73.41 L124.00,71.60 L124.10,73.92 L124.20,71.54 L124.30,73.41 L124.40,72.21 L124.50,73.74 L124.60,71.97 L124.70,73.54 L124.80,71.22 L124.90,73.17 L125.00,71.49 L125.10,72.91 L125.20,70.81 L125.30,72.23 L125.40,70.58 L125.50,71.78 L125.60,69.86 L125.70,71.80 L125.80,69.54 L125.90,70.89 L126.00,68.87 L126.10,70.22 L126.20,68.56 L126.30,69.80 L126.40,67.91 L126.50,69.15 L126.60,67.25 L126.70,69.15 L126.80,67.26 L126.90,68.46 L127.00,66.65 L127.10,68.30 L127.20,67.00 L127.30,68.21 L127.40,66.99 L127.50,68.81 L127.60,66.88 L127.70,68.42 L127.80,66.56 L127.90,68.82 L128.00,67.24 L128.10,68.87 L128.20,66.91 L128.30,69.04 L128.40,67.26 L128.50,69.03 L128.60,67.44 L128.70,69.74 L128.80,67.52 L128.90,69.78 L129.00,67.96 L129.10,69.35 L129.20,67.85 L129.30,69.85 L129.40,68.01 L129.50,69.33 L129.60,67.56 L129.70,69.48 L129.80,67.01 L129.90,68.68 L130.00,67.21 L130.10,68.81 L130.20,66.42 L130.30,68.30 L130.40,65.68 L130.50,67.98 L130.60,65.31 L130.70,67.36 L130.80,65.16 L130.90,66.77 L131.00,64.86 L131.10,66.42 L131.20,64.00 L131.30,66.01 L131.40,63.90 L131.50,65.44 L131.60,63.67 L131.70,64.97 L131.80,63.18 L131.90,65.27 L132.00,63.50 L132.10,65.28 L132.20,63.29 L132.30,65.25 L132.40,63.35 L132.50,65.86 L132.60,63.93 L132.70,65.51 L132.80,63.91 L132.90,66.46 L133.00,64.68 L133.10,66.54 L133.20,64.44 L133.30,66.98 L133.40,65.25 L133.50,66.57 L133.60,64.79 L133.70,66.77 L133.80,65.57 L133.90,67.23 L134.00,65.42 L134.10,67.39 L134.20,65.59 L134.30,67.45 L134.40,65.46 L134.50,67.18 L134.60,65.39 L134.70,66.73 L134.80,65.15 L134.90,66.31 L135.00,64.62 L135.10,66.30 L135.20,64.16 L135.30,65.42 L135.40,63.38 L135.50,65.71 L135.60,63.09 L135.70,64.88 L135.80,63.19 L135.90,64.58 L136.00,63.15 L136.10,64.22 L136.20,62.68 L136.30,64.16 L136.40,62.86 L136.50,64.71 L136.60,62.65 L136.70,64.26 L136.80,62.63 L136.90,64.50 L137.00,62.96 L137.10,64.78 L137.20,63.30 L137.30,65.45 L137.40,63.74 L137.50,65.76 L137.60,64.07 L137.70,66.70 L137.80,65.14 L137.90,66.73 L138.00,65.80 L138.10,67.99 L138.20,65.74 L138.30,67.98 L138.40,66.27 L138.50,68.47 L138.60,67.10 L138.70,69.13 L138.80,67.16 L138.90,69.10 L139.00,67.93 L139.10,69.80 L139.20,68.40 L139.30,69.72 L139.40,68.35 L139.50,70.33 L139.60,68.34 L139.70,70.38 L139.80,68.51 L139.90,70.38 L140.00,68.61 L140.10,70.43 L140.20,68.87 L140.30,70.35 L140.40,69.44 L140.50,70.82 L140.60,69.77 L140.70,71.21 L140.80,69.99 L140.90,71.34 L141.00,70.40 L141.10,71.81 L141.20,71.27 L141.30,72.46 L141.40,71.88 L141.50,73.43 L141.60,72.85 L141.70,74.20 L141.80,73.90 L141.90,75.39 L142.00,75.14 L142.10,76.60 L142.20,76.46 L142.30,77.65 L142.40,77.67" stroke="#ff00ff" stroke-width="2.7" stroke-linecap="round"/>
<path d="M142.40,78.00 L142.45,78.75 L142.50,79.54 L142.55,80.36 L142.60,81.22 L142.65,82.12 L142.70,83.05 L142.75,84.01 L142.80,85.00 L142.85,86.02 L142.90,87.09 L142.95,88.19 L143.00,89.33 L143.05,90.50 L143.10,91.72 L143.15,92.98 L143.20,94.28 L143.25,95.62 L143.30,97.00 L143.35,98.45 L143.40,99.99 L143.45,101.61 L143.50,103.29 L143.55,105.04 L143.60,106.83 L143.65,108.65 L143.70,110.51 L143.75,112.37 L143.80,114.25 L143.85,116.11 L143.90,117.96 L143.95,119.79 L144.00,121.58 L144.05,123.32 L144.10,125.00 L144.15,126.67 L144.20,128.39 L144.25,130.13 L144.30,131.89 L144.35,133.66 L144.40,135.42 L144.45,137.16 L144.50,138.86 L144.55,140.53 L144.60,142.14 L144.65,143.68 L144.70,145.15 L144.75,146.53 L144.80,147.80 L144.85,148.96 L144.90,150.00 L144.95,150.94 L145.00,151.83 L145.05,152.66 L145.10,153.46 L145.15,154.21 L145.20,154.92 L145.25,155.60 L145.30,156.26 L145.35,156.89 L145.40,157.50 L145.45,158.10 L145.50,158.68 L145.55,159.27 L145.60,159.85 L145.65,160.43 L145.70,161.03 L145.75,161.63 L145.80,162.25 L145.85,162.90 L145.90,163.57 L145.95,164.27 L146.00,165.00 L146.05,165.73 L146.10,166.43 L146.15,167.11 L146.20,167.77 L146.25,168.42 L146.30,169.08 L146.35,169.74 L146.40,170.42 L146.45,171.12 L146.50,171.86 L146.55,172.65 L146.60,173.48 L146.65,174.37 L146.70,175.33 L146.75,176.36 L146.80,177.48 L146.85,178.69 L146.90,180.00 L146.95,181.69 L147.00,183.93 L147.05,186.55 L147.10,189.38 L147.15,192.25 L147.20,195.00 L147.25,197.66 L147.30,200.39 L147.35,203.17 L147.40,206.00" stroke="#ff00ff" stroke-width="1.2"/>
<path d="M147.40,199.31 L147.52,205.00 L147.64,194.77 L147.76,205.49 L147.88,190.02 L148.00,198.68 L148.12,184.09 L148.24,199.58 L148.36,184.66 L148.48,196.38 L148.60,188.63 L148.72,203.79 L148.84,192.13 L148.96,202.70 L149.08,192.66 L149.20,206.27 L149.32,191.03 L149.44,202.41 L149.56,195.97 L149.68,206.25 L149.80,190.81 L149.92,201.73 L150.04,192.19 L150.16,205.95 L150.28,193.02 L150.40,205.16 L150.52,190.43 L150.64,199.37 L150.76,190.97 L150.88,203.50 L151.00,195.71 L151.12,201.39 L151.24,194.36 L151.36,200.59 L151.48,194.15 L151.60,202.30 L151.72,197.33 L151.84,201.86 L151.96,196.01 L152.08,203.72 L152.20,195.56 L152.32,203.71 L152.44,197.07 L152.56,203.73 L152.68,195.32 L152.80,201.26 L152.92,195.73 L153.04,203.80 L153.16,198.05 L153.28,203.52 L153.40,198.29 L153.52,201.07 L153.64,195.96 L153.76,201.55 L153.88,194.71 L154.00,203.28 L154.12,198.70 L154.24,202.29 L154.36,197.06 L154.48,201.81 L154.60,197.85 L154.72,202.21 L154.84,196.79 L154.96,203.69 L155.08,196.48 L155.20,203.29 L155.32,197.06 L155.44,199.92 L155.56,196.85 L155.68,202.61 L155.80,197.00 L155.92,202.01 L156.04,199.65 L156.16,200.52 L156.28,197.18 L156.40,203.00 L156.52,199.36 L156.64,202.21 L156.76,198.48 L156.88,203.25 L157.00,199.32 L157.12,202.66 L157.24,197.87 L157.36,202.86 L157.48,197.70 L157.60,200.74 L157.72,199.23 L157.84,202.00 L157.96,199.03 L158.08,201.99 L158.20,197.81 L158.32,201.67 L158.44,197.46 L158.56,202.29 L158.68,198.88 L158.80,200.91 L158.92,197.29 L159.04,201.04 L159.16,199.30 L159.28,201.94 L159.40,197.34 L159.52,201.21 L159.64,197.65 L159.76,201.34 L159.88,197.96 L160.00,201.36 L160.12,197.71 L160.24,201.83 L160.36,198.40 L160.48,201.37 L160.60,197.65 L160.72,200.20 L160.84,197.84 L160.96,202.24 L161.08,197.79 L161.20,202.62 L161.32,198.18 L161.44,200.90 L161.56,199.03 L161.68,202.43 L161.80,197.64 L161.92,202.17 L162.04,199.25 L162.16,201.76 L162.28,199.80 L162.40,201.27 L162.52,198.81 L162.64,200.92 L162.76,199.22 L162.88,202.09 L163.00,197.94 L163.12,201.87 L163.24,198.49 L163.36,202.44 L163.48,198.38 L163.60,201.31 L163.72,197.81 L163.84,202.43 L163.96,197.88 L164.08,202.18 L164.20,200.00 L164.32,202.52 L164.44,197.94 L164.56,202.36 L164.68,198.55 L164.80,202.50 L164.92,198.52 L165.04,202.34 L165.16,198.14 L165.28,200.85 L165.40,198.01 L165.52,201.36 L165.64,198.45 L165.76,201.86 L165.88,199.57 L166.00,202.34 L166.12,199.92 L166.24,200.54 L166.36,199.15 L166.48,202.45 L166.60,199.14 L166.72,201.42 L166.84,199.47 L166.96,202.25 L167.08,200.05 L167.20,200.58 L167.32,198.05 L167.44,202.07 L167.56,197.99 L167.68,200.77 L167.80,199.95 L167.92,200.26 L168.04,199.08 L168.16,201.25 L168.28,199.26 L168.40,201.50 L168.52,200.09 L168.64,201.40 L168.76,198.49 L168.88,201.64 L169.00,198.09 L169.12,201.10 L169.24,199.35 L169.36,201.84 L169.48,199.81 L169.60,201.02 L169.72,198.55 L169.84,202.38 L169.96,198.25 L170.08,202.25 L170.20,198.52 L170.32,201.78 L170.44,200.07 L170.56,202.11 L170.68,199.99 L170.80,201.23 L170.92,199.87 L171.04,201.87 L171.16,198.23 L171.28,200.95 L171.40,198.50 L171.52,202.29 L171.64,199.74 L171.76,201.23 L171.88,198.48 L172.00,202.11 L172.12,200.16 L172.24,202.11 L172.36,199.51 L172.48,202.29 L172.60,199.82 L172.72,202.30 L172.84,199.10 L172.96,202.37 L173.08,199.18 L173.20,200.82 L173.32,198.43 L173.44,202.09 L173.56,199.73 L173.68,201.43 L173.80,198.76 L173.92,201.38 L174.04,199.04 L174.16,200.79 L174.28,198.76 L174.40,201.07 L174.52,199.45 L174.64,201.12 L174.76,198.93 L174.88,201.16 L175.00,199.62 L175.12,201.89 L175.24,198.53 L175.36,200.54 L175.48,199.68 L175.60,202.17 L175.72,199.73 L175.84,202.06 L175.96,199.17 L176.08,200.84 L176.20,199.15 L176.32,202.04 L176.44,198.92 L176.56,202.29 L176.68,198.81 L176.80,202.06 L176.92,198.77 L177.04,202.29 L177.16,199.23 L177.28,202.13 L177.40,199.83 L177.52,200.70 L177.64,198.94 L177.76,201.53 L177.88,199.35 L178.00,202.27 L178.12,198.80 L178.24,200.81 L178.36,199.32 L178.48,201.02 L178.60,198.78 L178.72,201.48 L178.84,200.19 L178.96,200.87 L179.08,198.79 L179.20,201.63 L179.32,199.19 L179.44,201.13 L179.56,198.85 L179.68,202.04 L179.80,200.10 L179.92,201.72 L180.04,199.37 L180.16,200.65 L180.28,199.18 L180.40,202.25 L180.52,199.30 L180.64,202.16 L180.76,198.94 L180.88,201.54 L181.00,200.48 L181.12,201.52 L181.24,199.80 L181.36,201.95 L181.48,199.67 L181.60,201.18 L181.72,199.71 L181.84,201.07 L181.96,199.65 L182.08,202.10 L182.20,199.72 L182.32,201.69 L182.44,199.13 L182.56,201.46 L182.68,200.22 L182.80,202.15 L182.92,199.69 L183.04,201.23 L183.16,199.47 L183.28,202.01 L183.40,199.44 L183.52,201.60 L183.64,199.99 L183.76,201.57 L183.88,199.18 L184.00,201.07 L184.12,200.50 L184.24,202.16 L184.36,199.35 L184.48,202.10 L184.60,200.36 L184.72,200.89 L184.84,199.20 L184.96,201.91 L185.08,199.33 L185.20,201.72 L185.32,200.53 L185.44,202.17 L185.56,199.32 L185.68,201.68 L185.80,199.79 L185.92,201.23 L186.04,199.66 L186.16,202.10 L186.28,199.55 L186.40,200.75 L186.52,200.20 L186.64,202.12 L186.76,200.32 L186.88,201.92 L187.00,200.27 L187.12,202.16 L187.24,200.45 L187.36,202.07 L187.48,199.72 L187.60,201.38 L187.72,199.81 L187.84,202.06 L187.96,199.37 L188.08,201.93 L188.20,199.32 L188.32,202.00 L188.44,199.38 L188.56,201.69 L188.68,199.62 L188.80,201.51 L188.92,199.54 L189.04,202.13 L189.16,199.60 L189.28,201.21 L189.40,199.52 L189.52,201.77 L189.64,200.26 L189.76,201.76 L189.88,200.51 L190.00,200.91 L190.12,199.60 L190.24,201.25 L190.36,199.55 L190.48,202.04 L190.60,199.78 L190.72,201.47 L190.84,200.62 L190.96,202.03 L191.08,200.21 L191.20,201.66 L191.32,199.47 L191.44,200.81 L191.56,200.19 L191.68,202.03 L191.80,200.57 L191.92,202.04 L192.04,199.46 L192.16,201.83 L192.28,200.64 L192.40,202.07 L192.52,200.60 L192.64,201.45 L192.76,199.47 L192.88,201.51 L193.00,199.86 L193.12,201.52 L193.24,200.29 L193.36,201.34 L193.48,200.76 L193.60,201.98 L193.72,200.43 L193.84,201.72 L193.96,200.38 L194.08,200.98 L194.20,200.76 L194.32,201.88 L194.44,199.89 L194.56,200.88 L194.68,200.68 L194.80,201.75 L194.92,200.67 L195.04,201.71 L195.16,199.81 L195.28,201.21 L195.40,199.94 L195.52,201.66 L195.64,199.84 L195.76,201.67 L195.88,199.61 L196.00,202.00 L196.12,200.36 L196.24,201.50 L196.36,200.24 L196.48,201.14 L196.60,199.71 L196.72,201.87 L196.84,199.76 L196.96,201.81 L197.08,200.39 L197.20,201.73 L197.32,199.82 L197.44,201.39 L197.56,199.70 L197.68,201.96 L197.80,200.30 L197.92,201.21 L198.04,199.81 L198.16,201.39 L198.28,199.63 L198.40,201.68 L198.52,200.15 L198.64,201.83 L198.76,199.88 L198.88,201.42 L199.00,200.18 L199.12,201.90 L199.24,200.34 L199.36,201.94 L199.48,200.76 L199.60,201.86 L199.72,199.82 L199.84,201.86 L199.96,200.81 L200.08,201.78 L200.20,200.22 L200.32,200.84 L200.44,200.74 L200.56,201.94 L200.68,200.13 L200.80,201.42 L200.92,200.37 L201.04,201.73 L201.16,199.93 L201.28,201.94 L201.40,199.73 L201.52,201.49 L201.64,199.76 L201.76,201.83 L201.88,199.95 L202.00,201.91 L202.12,199.76 L202.24,200.96 L202.36,200.07 L202.48,201.82 L202.60,200.41 L202.72,201.91 L202.84,199.90 L202.96,200.91 L203.08,200.69 L203.20,201.37 L203.32,199.82 L203.44,201.71 L203.56,199.80 L203.68,201.79 L203.80,199.81 L203.92,201.86 L204.04,200.34 L204.16,201.88 L204.28,199.88 L204.40,201.01 L204.52,200.02 L204.64,201.72 L204.76,199.85 L204.88,201.18 L205.00,200.41 L205.12,201.50 L205.24,200.35 L205.36,201.90 L205.48,199.98 L205.60,201.47 L205.72,200.82 L205.84,201.17 L205.96,200.39 L206.08,201.55 L206.20,199.86 L206.32,201.07 L206.44,199.89 L206.56,201.90 L206.68,200.47 L206.80,201.20 L206.92,200.60 L207.04,201.65 L207.16,199.96 L207.28,201.96 L207.40,200.71 L207.52,200.97 L207.64,200.02 L207.76,201.14 L207.88,200.17 L208.00,201.80 L208.12,200.28 L208.24,201.98 L208.36,200.22 L208.48,201.90 L208.60,200.54 L208.72,201.62 L208.84,200.76 L208.96,201.12 L209.08,200.12 L209.20,201.85 L209.32,200.88 L209.44,201.64 L209.56,199.97 L209.68,202.00 L209.80,200.97 L209.92,201.56 L210.04,199.97 L210.16,201.64 L210.28,200.33 L210.40,201.73 L210.52,200.92 L210.64,201.08 L210.76,200.02 L210.88,201.97 L211.00,200.25 L211.12,201.25 L211.24,200.49 L211.36,201.40 L211.48,200.44 L211.60,201.95 L211.72,200.76 L211.84,202.05 L211.96,200.60 L212.08,201.97 L212.20,200.34 L212.32,201.07 L212.44,200.42 L212.56,202.05 L212.68,200.31 L212.80,201.52 L212.92,200.04 L213.04,201.94 L213.16,200.03 L213.28,201.67 L213.40,200.28 L213.52,201.72 L213.64,200.21 L213.76,201.54 L213.88,200.12 L214.00,201.21 L214.12,201.01 L214.24,201.74 L214.36,200.38 L214.48,201.29 L214.60,200.23 L214.72,201.37 L214.84,200.23 L214.96,201.49 L215.00,200.27 L215.50,201.64 L216.00,201.00 L216.50,202.12 L217.00,200.86 L217.50,201.75 L218.00,200.39 L218.50,201.96 L219.00,200.19 L219.50,202.06 L220.00,200.69 L220.50,202.17 L221.00,200.75 L221.50,201.26 L222.00,201.18 L222.50,201.36 L223.00,200.94 L223.50,202.10 L224.00,201.17 L224.50,202.08 L225.00,201.03 L225.50,201.38 L226.00,200.74 L226.50,201.80 L227.00,200.37 L227.50,201.80 L228.00,200.44 L228.50,202.10 L229.00,200.35 L229.50,201.48 L230.00,201.12 L230.50,202.07 L231.00,200.34 L231.50,201.99 L232.00,200.39 L232.50,202.03 L233.00,200.75 L233.50,201.86 L234.00,200.62 L234.50,202.01 L235.00,200.85 L235.50,201.95 L236.00,200.61 L236.50,201.81 L237.00,201.13 L237.50,201.97 L238.00,200.92 L238.50,201.92 L239.00,201.12 L239.50,201.85 L240.00,200.74 L240.50,201.39 L241.00,200.90 L241.50,202.02 L242.00,200.51 L242.50,201.27 L243.00,200.49 L243.50,201.90 L244.00,201.21 L244.50,202.01 L245.00,200.56 L245.50,201.94 L246.00,200.54 L246.50,201.76 L247.00,200.87 L247.50,201.86 L248.00,200.58 L248.50,201.46 L249.00,201.07 L249.50,201.68 L250.00,200.61 L250.50,201.69 L251.00,200.93 L251.50,201.77 L252.00,201.15 L252.50,201.79 L253.00,200.86 L253.50,201.92 L254.00,200.90 L254.50,201.50 L255.00,201.04 L255.50,201.85 L256.00,201.28 L256.50,201.54 L257.00,200.84 L257.50,201.75 L258.00,201.10 L258.50,201.87 L259.00,201.00 L259.50,201.54 L260.00,200.92 L260.50,201.41 L261.00,200.90 L261.50,201.70 L262.00,200.81 L262.50,201.37 L263.00,200.83 L263.50,201.54 L264.00,200.89 L264.50,201.36 L265.00,201.26 L265.50,201.86 L266.00,201.30 L266.50,201.60 L267.00,200.78 L267.50,201.66 L268.00,200.79 L268.50,201.62 L269.00,200.83 L269.50,201.71 L270.00,200.89 L270.50,201.58 L271.00,201.19 L271.50,201.36 L272.00,200.91 L272.50,201.60 L273.00,200.83 L273.50,201.69 L274.00,201.29 L274.50,201.77 L275.00,201.23 L275.50,201.54 L276.00,200.93 L276.50,201.46 L277.00,200.94 L277.50,201.39 L278.00,200.89 L278.50,201.74 L279.00,201.17 L279.50,201.62 L280.00,200.92 L280.50,201.58 L281.00,200.98 L281.50,201.56 L282.00,201.19 L282.50,201.40 L283.00,200.97 L283.50,201.52 L284.00,201.32 L284.50,201.53 L285.00,201.16 L285.50,201.60 L286.00,201.27 L286.50,201.49 L287.00,201.28 L287.50,201.41 L288.00,201.28 L288.50,201.59 L289.00,201.21 L289.50,201.46 L290.00,201.00 L290.50,201.48 L291.00,201.20 L291.50,201.44 L292.00,201.31 L292.50,201.53 L293.00,201.15 L293.50,201.47 L294.00,201.22 L294.50,201.25 L295.00,201.08 L295.50,201.36 L296.00,201.25 L296.50,201.45 L297.00,201.19 L297.50,201.42 L298.00,201.30 L298.50,201.38 L299.00,201.06 L299.50,201.15 L300.00,201.13 L300.50,201.38 L301.00,201.26 L301.50,201.33 L302.00,201.24 L302.50,201.38 L303.00,201.27 L303.50,201.28 L304.00,201.02 L304.50,201.10 L305.00,201.24 L305.50,201.36 L306.00,201.31 L306.50,201.36 L307.00,201.26 L307.50,201.32 L308.00,201.27 L308.50,201.17 L309.00,200.92 L309.50,201.11 L310.00,201.26 L310.50,201.32 L311.00,201.28 L311.50,201.31 L312.00,201.30 L312.50,201.32 L313.00,201.26 L313.50,201.00 L314.00,200.88 L314.50,201.16 L315.00,201.30 L315.50,201.30 L316.00,201.30 L316.50,201.30 L317.00,201.30 L317.50,201.30 L318.00,201.19 L318.50,200.89 L319.00,200.96 L319.50,201.25 L320.00,201.30 L320.50,201.30 L321.00,201.30 L321.50,201.30 L322.00,201.30 L322.50,201.29 L323.00,201.07 L323.50,200.85 L324.00,201.08 L324.50,201.29 L325.00,201.30 L325.50,201.30 L326.00,201.30 L326.50,201.30 L327.00,201.30 L327.50,201.24 L328.00,200.94 L328.50,200.89 L329.00,201.20 L329.50,201.30 L330.00,201.30 L330.50,201.30 L331.00,201.30 L331.50,201.30 L332.00,201.30 L332.50,201.15 L333.00,200.86 L333.50,201.00 L334.00,201.27 L334.50,201.30 L335.00,201.30 L335.50,201.30 L336.00,201.30 L336.50,201.30 L337.00,201.28 L337.50,201.02 L338.00,200.86 L338.50,201.13 L339.00,201.30 L339.50,201.30 L340.00,201.30 L340.50,201.30 L341.00,201.30 L341.50,201.30 L342.00,201.21 L342.50,200.91 L343.00,200.93 L343.50,201.23 L344.00,201.30 L344.50,201.30 L345.00,201.30 L345.50,201.30 L346.00,201.30 L346.50,201.30 L347.00,201.10 L347.50,200.85 L348.00,201.05 L348.50,201.29 L349.00,201.30 L349.50,201.30 L350.00,201.30 L350.50,201.30 L351.00,201.30 L351.50,201.26 L352.00,200.97 L352.50,200.88 L353.00,201.17 L353.50,201.30 L354.00,201.30 L354.50,201.30 L355.00,201.30 L355.50,201.30 L356.00,201.30 L356.50,201.18 L357.00,200.88 L357.50,200.97 L358.00,201.26 L358.50,201.30 L359.00,201.30 L359.50,201.30 L360.00,201.30 L360.50,201.30 L361.00,201.29 L361.50,201.05 L362.00,200.85 L362.50,201.09 L363.00,201.29 L363.50,201.30 L364.00,201.30 L364.50,201.30 L365.00,201.30 L365.50,201.30 L366.00,201.24 L366.50,200.93 L367.00,200.90 L367.50,201.21 L368.00,201.30 L368.50,201.30 L369.00,201.30 L369.50,201.30 L370.00,201.30 L370.50,201.30 L371.00,201.13 L371.50,200.86 L372.00,201.01 L372.50,201.28 L373.00,201.30 L373.50,201.30 L374.00,201.30 L374.50,201.30 L375.00,201.30 L375.50,201.27 L376.00,201.01 L376.50,200.86 L377.00,201.14 L377.50,201.30 L378.00,201.30 L378.50,201.30 L379.00,201.30 L379.50,201.30 L380.00,201.30 L380.50,201.20 L381.00,200.90 L381.50,200.94 L382.00,201.24 L382.50,201.30 L383.00,201.30 L383.50,201.30 L384.00,201.30 L384.50,201.30 L385.00,201.29 L385.50,201.09 L386.00,200.85 L386.50,201.06 L387.00,201.29 L387.50,201.30 L388.00,201.30 L388.50,201.30 L389.00,201.30 L389.50,201.30 L390.00,201.25 L390.50,200.96 L391.00,200.88 L391.50,201.18 L392.00,201.30 L392.50,201.30 L393.00,201.30 L393.50,201.30 L394.00,201.30 L394.50,201.30 L395.00,201.16 L395.50,200.87 L396.00,200.98 L396.50,201.26 L397.00,201.30 L397.50,201.30 L398.00,201.30 L398.50,201.30 L399.00,201.30 L399.50,201.28" stroke="#ff00ff" stroke-width="1"/>
<path d="M100.40,183.50 L100.52,183.68 L100.64,183.87 L100.76,184.12 L100.88,184.35 L101.00,184.66 L101.12,184.93 L101.24,185.32 L101.36,185.59 L101.48,186.09 L101.60,186.44 L101.72,187.05 L101.84,187.48 L101.96,188.06 L102.08,188.52 L102.20,189.16 L102.32,189.51 L102.44,190.18 L102.56,190.46 L102.68,191.21 L102.80,191.48 L102.92,192.08 L103.04,192.19 L103.16,193.12 L103.28,193.20 L103.40,193.64 L103.52,193.76 L103.64,194.31 L103.76,194.49 L103.88,194.92 L104.00,194.75 L104.12,195.74 L104.24,194.97 L104.36,195.96 L104.48,195.77 L104.60,196.63 L104.72,195.67 L104.84,197.22 L104.96,196.27 L105.08,197.33 L105.20,196.72 L105.32,197.89 L105.44,196.91 L105.56,197.84 L105.68,197.02 L105.80,198.64 L105.92,197.26 L106.04,198.41 L106.16,197.36 L106.28,199.36 L106.40,197.89 L106.52,199.55 L106.64,198.55 L106.76,199.19 L106.88,199.00 L107.00,199.42 L107.12,198.84 L107.24,200.46 L107.36,199.31 L107.48,200.08 L107.60,199.42 L107.72,200.37 L107.84,199.76 L107.96,201.14 L108.08,199.73 L108.20,201.10 L108.32,199.46 L108.44,201.59 L108.56,199.42 L108.68,201.59 L108.80,199.84 L108.92,201.91 L109.04,200.77 L109.16,201.70 L109.28,200.63 L109.40,201.33 L109.52,200.07 L109.64,202.37 L109.76,200.06 L109.88,202.74 L110.00,201.61 L110.12,203.34 L110.24,201.37 L110.36,202.23 L110.48,201.04 L110.60,202.54 L110.72,201.05 L110.84,203.56 L110.96,201.29 L111.08,203.99 L111.20,201.05 L111.32,204.00 L111.44,202.60 L111.56,204.12 L111.68,201.14 L111.80,202.98 L111.92,201.10 L112.04,203.05 L112.16,202.66 L112.28,203.95 L112.40,201.80 L112.52,204.99 L112.64,201.33 L112.76,205.27 L112.88,201.83 L113.00,204.86 L113.12,203.27 L113.24,204.69 L113.36,203.54 L113.48,204.35 L113.60,201.69 L113.72,204.84 L113.84,201.78 L113.96,205.89 L114.08,203.65 L114.20,205.47 L114.32,201.96 L114.44,205.96 L114.56,203.01 L114.68,205.34 L114.80,201.83 L114.92,204.79 L115.04,202.25 L115.16,204.68 L115.28,202.79 L115.40,205.35 L115.52,202.77 L115.64,205.06 L115.76,204.19 L115.88,204.80 L116.00,202.14 L116.12,205.60 L116.24,202.45 L116.36,206.42 L116.48,202.42 L116.60,206.22 L116.72,204.29 L116.84,205.12 L116.96,204.03 L117.08,205.28 L117.20,202.77 L117.32,206.05 L117.44,203.08 L117.56,206.29 L117.68,203.07 L117.80,205.20 L117.92,202.47 L118.04,206.39 L118.16,203.27 L118.28,205.52 L118.40,203.70 L118.52,205.42 L118.64,202.60 L118.76,206.67 L118.88,202.99 L119.00,206.52 L119.12,204.07 L119.24,204.78 L119.36,203.91 L119.48,206.99 L119.60,203.05 L119.72,205.38 L119.84,204.62 L119.96,205.95 L120.08,203.20 L120.20,206.53 L120.32,203.89 L120.44,205.29 L120.56,203.23 L120.68,206.91 L120.80,202.71 L120.92,207.02 L121.04,204.54 L121.16,206.00 L121.28,204.96 L121.40,207.17 L121.52,203.38 L121.64,205.60 L121.76,204.10 L121.88,207.21 L122.00,203.50 L122.12,206.04 L122.24,204.21 L122.36,206.50 L122.48,203.12 L122.60,205.19 L122.72,203.71 L122.84,205.87 L122.96,203.89 L123.08,207.22 L123.20,203.28 L123.32,207.24 L123.44,203.22 L123.56,207.03 L123.68,203.68 L123.80,206.81 L123.92,203.60 L124.04,205.66 L124.16,203.07 L124.28,207.19 L124.40,204.68 L124.52,206.37 L124.64,203.83 L124.76,206.92 L124.88,204.08 L125.00,207.01 L125.12,204.86 L125.24,205.70 L125.36,203.66 L125.48,207.28 L125.60,204.97 L125.72,206.88 L125.84,204.42 L125.96,205.65 L126.08,204.78 L126.20,205.65 L126.32,204.09 L126.44,205.71 L126.56,204.06 L126.68,206.95 L126.80,204.12 L126.92,206.83 L127.04,204.77 L127.16,205.77 L127.28,203.57 L127.40,207.11 L127.52,204.00 L127.64,206.59 L127.76,205.28 L127.88,205.54 L128.00,205.32 L128.12,206.04 L128.24,204.66 L128.36,206.96 L128.48,204.07 L128.60,207.30 L128.72,205.04 L128.84,206.95 L128.96,203.67 L129.08,206.89 L129.20,204.05 L129.32,206.10 L129.44,203.65 L129.56,207.03 L129.68,205.24 L129.80,205.82 L129.92,204.68 L130.04,206.46 L130.16,203.97 L130.28,205.80 L130.40,204.99 L130.52,206.55 L130.64,203.92 L130.76,207.06 L130.88,204.28 L131.00,206.88 L131.12,203.85 L131.24,206.76 L131.36,204.44 L131.48,206.96 L131.60,204.34 L131.72,206.89 L131.84,204.35 L131.96,206.38 L132.08,204.58 L132.20,207.09 L132.32,205.17 L132.44,206.59 L132.56,204.54 L132.68,206.22 L132.80,205.11 L132.92,205.95 L133.04,205.24 L133.16,206.32 L133.28,205.08 L133.40,207.15 L133.52,205.05 L133.64,207.02 L133.76,204.32 L133.88,207.20 L134.00,204.54 L134.12,207.29 L134.24,205.01 L134.36,206.20 L134.48,205.25 L134.60,207.19 L134.72,205.01 L134.84,206.04 L134.96,204.16 L135.08,207.11 L135.20,204.44 L135.32,206.73 L135.44,204.33 L135.56,206.60 L135.68,204.58 L135.80,206.41 L135.92,204.89 L136.04,206.36 L136.16,204.48 L136.28,206.32 L136.40,205.27 L136.52,206.30 L136.64,204.31 L136.76,205.89 L136.88,205.02 L137.00,207.02 L137.12,204.81 L137.24,206.66 L137.36,204.95 L137.48,207.06 L137.60,204.60 L137.72,206.90 L137.84,205.42 L137.96,206.80 L138.08,204.39 L138.20,206.78 L138.32,204.56 L138.44,207.30 L138.56,205.80 L138.68,207.01 L138.80,205.05 L138.92,206.92 L139.04,204.46 L139.16,206.05 L139.28,205.75 L139.40,207.14 L139.52,204.91 L139.64,206.90 L139.76,204.60 L139.88,206.47 L140.00,205.50 L140.12,206.31 L140.24,205.33 L140.36,207.29 L140.48,204.71 L140.60,206.71 L140.72,205.39 L140.84,206.90 L140.96,205.01 L141.08,206.19 L141.20,204.54 L141.32,207.05 L141.44,204.82 L141.56,205.94 L141.68,204.75 L141.80,207.27 L141.92,205.00 L142.04,206.52 L142.16,204.69 L142.28,206.22 L142.40,204.75 L142.52,206.44 L142.64,204.72 L142.76,206.15 L142.88,204.77 L143.00,206.40 L143.12,205.68 L143.24,207.07 L143.36,204.69 L143.48,206.63 L143.60,205.17 L143.72,206.79 L143.84,205.61 L143.96,206.81 L144.08,205.19 L144.20,206.78 L144.32,205.14 L144.44,206.89 L144.56,204.80 L144.68,207.03 L144.80,204.92 L144.92,207.09 L145.04,205.64 L145.16,207.22 L145.28,204.87 L145.40,206.74 L145.52,205.00 L145.64,207.10 L145.76,205.08 L145.88,206.77 L146.00,205.50 L146.12,206.06 L146.24,205.78 L146.36,206.87 L146.48,205.20 L146.60,206.89 L146.72,204.95 L146.84,206.11 L146.96,204.80 L147.08,207.14 L147.20,205.51 L147.32,206.66 L147.44,205.02 L147.56,206.14 L147.68,205.18 L147.80,206.66 L147.92,204.85 L148.04,206.22 L148.16,204.87 L148.28,206.93 L148.40,205.87 L148.52,206.15 L148.64,205.91 L148.76,206.33 L148.88,205.02 L149.00,207.28 L149.12,205.28 L149.24,207.26 L149.36,206.01 L149.48,207.30 L149.60,205.14 L149.72,207.14 L149.84,204.87 L149.96,206.81 L150.08,204.91 L150.20,206.24 L150.32,205.62 L150.44,206.97 L150.56,205.85 L150.68,206.40 L150.80,205.17 L150.92,206.33 L151.04,205.99 L151.16,206.65 L151.28,205.21 L151.40,206.26 L151.52,206.02 L151.64,207.00 L151.76,204.97 L151.88,206.31 L152.00,205.62 L152.12,207.12 L152.24,205.50 L152.36,207.04 L152.48,206.00 L152.60,207.01 L152.72,205.09 L152.84,207.28 L152.96,205.24 L153.08,206.14 L153.20,205.12 L153.32,206.87 L153.44,206.09 L153.56,207.30 L153.68,205.21 L153.80,206.40 L153.92,205.03 L154.04,206.24 L154.16,205.90 L154.28,207.20 L154.40,205.57 L154.52,206.76 L154.64,205.71 L154.76,207.05 L154.88,205.33 L155.00,207.12 L155.12,205.24 L155.24,207.18 L155.36,206.01 L155.48,206.32 L155.60,205.32 L155.72,206.59 L155.84,205.47 L155.96,207.08 L156.08,205.32 L156.20,206.21 L156.32,205.31 L156.44,206.74 L156.56,206.09 L156.68,207.06 L156.80,205.90 L156.92,207.23 L157.04,205.80 L157.16,206.45 L157.28,205.94 L157.40,206.21 L157.52,205.77 L157.64,206.21 L157.76,205.27 L157.88,206.82 L158.00,205.22 L158.12,207.25 L158.24,205.45 L158.36,206.57 L158.48,205.88 L158.60,207.29 L158.72,206.10 L158.84,207.11 L158.96,205.31 L159.08,206.42 L159.20,206.04 L159.32,206.55 L159.44,205.35 L159.56,206.89 L159.68,205.96 L159.80,207.01 L159.92,205.93 L160.04,206.50 L160.16,205.51 L160.28,206.34 L160.40,205.42 L160.52,206.54 L160.64,205.72 L160.76,207.03 L160.88,205.59 L161.00,206.73 L161.12,205.60 L161.24,207.23 L161.36,206.19 L161.48,206.25 L161.60,205.14 L161.72,206.29 L161.84,205.60 L161.96,207.22 L162.08,205.97 L162.20,206.93 L162.32,205.83 L162.44,206.45 L162.56,205.62 L162.68,207.27 L162.80,205.98 L162.92,206.62 L163.04,206.09 L163.16,207.10 L163.28,205.93 L163.40,206.39 L163.52,205.43 L163.64,206.96 L163.76,205.41 L163.88,207.29 L164.00,205.32 L164.12,207.04 L164.24,205.22 L164.36,206.54 L164.48,205.52 L164.60,206.78 L164.72,205.37 L164.84,207.01 L164.96,205.90 L165.08,206.89 L165.20,205.71 L165.32,206.94 L165.44,205.67 L165.56,206.37 L165.68,205.37 L165.80,206.84 L165.92,205.83 L166.04,207.25 L166.16,206.19 L166.28,206.86 L166.40,205.36 L166.52,206.55 L166.64,206.00 L166.76,206.71 L166.88,206.13 L167.00,207.24 L167.12,205.65 L167.24,206.58 L167.36,206.13 L167.48,206.70 L167.60,205.74 L167.72,206.98 L167.84,205.71 L167.96,206.80 L168.08,206.12 L168.20,206.48 L168.32,205.91 L168.44,206.35 L168.56,205.24 L168.68,206.55 L168.80,205.60 L168.92,206.57 L169.04,205.43 L169.16,206.90 L169.28,206.03 L169.40,207.27 L169.52,205.43 L169.64,206.88 L169.76,206.06 L169.88,207.10 L170.00,206.03 L170.12,207.12 L170.24,205.45 L170.36,206.81 L170.48,205.82 L170.60,206.42 L170.72,206.10 L170.84,207.12 L170.96,205.94 L171.08,206.72 L171.20,205.54 L171.32,206.55 L171.44,206.13 L171.56,206.89 L171.68,206.16 L171.80,207.21 L171.92,205.35 L172.04,206.57 L172.16,205.47 L172.28,206.78 L172.40,205.66 L172.52,207.20 L172.64,205.96 L172.76,206.60 L172.88,205.34 L173.00,207.11 L173.12,206.02 L173.24,206.39 L173.36,206.11 L173.48,206.87 L173.60,205.54 L173.72,206.93 L173.84,205.37 L173.96,206.88 L174.08,205.42 L174.20,207.19 L174.32,205.56 L174.44,207.25 L174.56,205.65 L174.68,206.65 L174.80,205.85 L174.92,206.31 L175.04,206.13 L175.16,206.73 L175.28,206.15 L175.40,206.93 L175.52,206.03 L175.64,207.09 L175.76,205.72 L175.88,206.31 L176.00,205.80 L176.12,206.87 L176.24,206.02 L176.36,207.06 L176.48,206.07 L176.60,207.27 L176.72,205.45 L176.84,207.17 L176.96,205.47 L177.08,206.36 L177.20,205.31 L177.32,207.07 L177.44,205.78 L177.56,206.65 L177.68,206.01 L177.80,206.99 L177.92,205.44 L178.04,206.48 L178.16,205.37 L178.28,207.25 L178.40,205.46 L178.52,206.88 L178.64,206.22 L178.76,206.62 L178.88,205.78 L179.00,206.86 L179.12,205.92 L179.24,206.74 L179.36,205.55 L179.48,207.23 L179.60,205.44 L179.72,206.56 L179.84,205.86 L179.96,206.55 L180.08,205.34 L180.20,206.42 L180.32,205.60 L180.44,206.39 L180.56,205.82 L180.68,206.83 L180.80,206.08 L180.92,206.75 L181.04,205.91 L181.16,207.19 L181.28,205.84 L181.40,207.02 L181.52,205.37 L181.64,207.20 L181.76,205.71 L181.88,207.10 L182.00,206.02 L182.12,207.21 L182.24,205.34 L182.36,206.31 L182.48,205.55 L182.60,206.87 L182.72,205.47 L182.84,207.15 L182.96,205.64 L183.08,206.56 L183.20,205.36 L183.32,206.51 L183.44,206.30 L183.56,206.82 L183.68,205.60 L183.80,207.12 L183.92,205.46 L184.04,207.05 L184.16,206.13 L184.28,207.27 L184.40,206.06 L184.52,206.70 L184.64,205.36 L184.76,207.24 L184.88,206.00 L185.00,206.70 L185.12,205.57 L185.24,206.48 L185.36,205.49 L185.48,206.95 L185.60,205.42 L185.72,206.73 L185.84,205.41 L185.96,207.16 L186.08,206.04 L186.20,206.88 L186.32,205.93 L186.44,206.63 L186.56,205.87 L186.68,207.15 L186.80,205.97 L186.92,207.21 L187.04,205.55 L187.16,206.93 L187.28,205.43 L187.40,207.21 L187.52,205.92 L187.64,206.63 L187.76,205.64 L187.88,206.99 L188.00,205.51 L188.12,206.86 L188.24,205.85 L188.36,206.41 L188.48,205.40 L188.60,206.44 L188.72,206.31 L188.84,207.03 L188.96,206.01 L189.08,206.53 L189.20,205.93 L189.32,207.08 L189.44,205.90 L189.56,206.48 L189.68,205.45 L189.80,206.90 L189.92,205.41 L190.04,206.51 L190.16,206.07 L190.28,207.24 L190.40,206.04 L190.52,206.69 L190.64,205.47 L190.76,206.86 L190.88,205.98 L191.00,207.04 L191.12,205.79 L191.24,206.36 L191.36,205.92 L191.48,206.88 L191.60,205.44 L191.72,207.20 L191.84,206.16 L191.96,206.63 L192.08,206.14 L192.20,206.81 L192.32,205.87 L192.44,206.85 L192.56,206.04 L192.68,207.04 L192.80,205.79 L192.92,206.91 L193.04,205.96 L193.16,207.13 L193.28,205.43 L193.40,207.22 L193.52,205.52 L193.64,206.51 L193.76,206.02 L193.88,206.63 L194.00,205.75 L194.12,207.21 L194.24,205.77 L194.36,206.50 L194.48,205.81 L194.60,206.75 L194.72,205.69 L194.84,207.18 L194.96,205.93 L195.08,206.90 L195.20,205.67 L195.32,207.10 L195.44,206.01 L195.56,207.05 L195.68,205.88 L195.80,207.09 L195.92,206.07 L196.04,207.00 L196.16,205.79 L196.28,206.43 L196.40,206.03 L196.52,206.64 L196.64,205.67 L196.76,206.53 L196.88,205.71 L197.00,206.36 L197.12,206.23 L197.24,206.73 L197.36,206.16 L197.48,206.84 L197.60,206.05 L197.72,207.19 L197.84,206.34 L197.96,206.58 L198.08,205.53 L198.20,207.10 L198.32,205.89 L198.44,206.62 L198.56,205.54 L198.68,206.40 L198.80,205.69 L198.92,206.36 L199.04,206.08 L199.16,206.90 L199.28,205.70 L199.40,207.20 L199.52,205.50 L199.64,206.76 L199.76,206.10 L199.88,206.46 L200.00,205.71 L200.50,206.43 L201.00,205.66 L201.50,206.43 L202.00,206.27 L202.50,207.16 L203.00,206.21 L203.50,206.68 L204.00,206.04 L204.50,206.54 L205.00,205.89 L205.50,206.88 L206.00,205.74 L206.50,206.52 L207.00,206.26 L207.50,207.15 L208.00,206.13 L208.50,207.07 L209.00,205.62 L209.50,207.12 L210.00,205.94 L210.50,207.06 L211.00,205.67 L211.50,207.18 L212.00,205.74 L212.50,206.62 L213.00,205.56 L213.50,206.89 L214.00,205.99 L214.50,207.20 L215.00,205.73 L215.50,206.49 L216.00,206.38 L216.50,206.55 L217.00,205.66 L217.50,206.63 L218.00,205.87 L218.50,207.12 L219.00,205.90 L219.50,206.48 L220.00,206.27 L220.50,206.96 L221.00,205.63 L221.50,206.50 L222.00,206.39 L222.50,206.86 L223.00,205.74 L223.50,206.83 L224.00,206.12 L224.50,206.88 L225.00,205.84 L225.50,207.05 L226.00,205.81 L226.50,207.15 L227.00,205.79 L227.50,206.46 L228.00,205.67 L228.50,206.67 L229.00,206.22 L229.50,206.92 L230.00,206.06 L230.50,207.04 L231.00,206.12 L231.50,206.67 L232.00,206.18 L232.50,206.84 L233.00,206.39 L233.50,206.53 L234.00,206.06 L234.50,206.68 L235.00,205.86 L235.50,206.46 L236.00,206.13 L236.50,206.50 L237.00,205.89 L237.50,206.43 L238.00,205.80 L238.50,206.77 L239.00,205.82 L239.50,206.97 L240.00,206.23 L240.50,207.01 L241.00,205.98 L241.50,206.95 L242.00,206.30 L242.50,206.98 L243.00,205.96 L243.50,206.52 L244.00,206.19 L244.50,206.62 L245.00,206.40 L245.50,206.97 L246.00,206.18 L246.50,206.58 L247.00,206.24 L247.50,206.60 L248.00,205.89 L248.50,206.91 L249.00,206.26 L249.50,206.65 L250.00,205.99 L250.50,206.91 L251.00,206.13 L251.50,206.87 L252.00,206.25 L252.50,206.77 L253.00,206.29 L253.50,206.85 L254.00,206.12 L254.50,206.84 L255.00,206.28 L255.50,206.64 L256.00,206.03 L256.50,206.42 L257.00,206.23 L257.50,206.72 L258.00,206.32 L258.50,206.70 L259.00,206.37 L259.50,206.72 L260.00,206.39 L260.50,206.78 L261.00,206.27 L261.50,206.71 L262.00,206.15 L262.50,206.57 L263.00,206.04 L263.50,206.71 L264.00,206.06 L264.50,206.51 L265.00,206.10 L265.50,206.60 L266.00,206.15 L266.50,206.68 L267.00,206.37 L267.50,206.58 L268.00,206.27 L268.50,206.51 L269.00,206.33 L269.50,206.64 L270.00,206.13 L270.50,206.57 L271.00,206.16 L271.50,206.66 L272.00,206.37 L272.50,206.51 L273.00,206.23 L273.50,206.62 L274.00,206.33 L274.50,206.53 L275.00,206.20 L275.50,206.40 L276.00,206.39 L276.50,206.42 L277.00,206.36 L277.50,206.50 L278.00,206.26 L278.50,206.47 L279.00,206.25 L279.50,206.48 L280.00,206.25 L280.50,206.54 L281.00,206.35 L281.50,206.50 L282.00,206.35 L282.50,206.43 L283.00,206.38 L283.50,206.45 L284.00,206.38 L284.50,206.42 L285.00,206.35 L285.50,206.39 L286.00,206.33 L286.50,206.45 L287.00,206.36 L287.50,206.45 L288.00,206.35 L288.50,206.41 L289.00,206.35 L289.50,206.37 L290.00,206.31 L290.50,206.40 L291.00,206.38 L291.50,206.40 L292.00,206.39 L292.50,206.41 L293.00,206.38 L293.50,206.41 L294.00,206.36 L294.50,206.28 L295.00,206.30 L295.50,206.39 L296.00,206.40 L296.50,206.40 L297.00,206.40 L297.50,206.40 L298.00,206.40 L298.50,206.39 L299.00,206.30 L299.50,206.23 L300.00,206.33 L300.50,206.40 L301.00,206.40 L301.50,206.40 L302.00,206.40 L302.50,206.40 L303.00,206.40 L303.50,206.37 L304.00,206.23 L304.50,206.22 L305.00,206.36 L305.50,206.40 L306.00,206.40 L306.50,206.40 L307.00,206.40 L307.50,206.40 L308.00,206.40 L308.50,206.30 L309.00,206.16 L309.50,206.25 L310.00,206.39 L310.50,206.40 L311.00,206.40 L311.50,206.40 L312.00,206.40 L312.50,206.40 L313.00,206.38 L313.50,206.20 L314.00,206.12 L314.50,206.31 L315.00,206.40 L315.50,206.40 L316.00,206.40 L316.50,206.40 L317.00,206.40 L317.50,206.40 L318.00,206.32 L318.50,206.12 L319.00,206.17 L319.50,206.37 L320.00,206.40 L320.50,206.40 L321.00,206.40 L321.50,206.40 L322.00,206.40 L322.50,206.39 L323.00,206.25 L323.50,206.10 L324.00,206.25 L324.50,206.40 L325.00,206.40 L325.50,206.40 L326.00,206.40 L326.50,206.40 L327.00,206.40 L327.50,206.36 L328.00,206.16 L328.50,206.13 L329.00,206.33 L329.50,206.40 L330.00,206.40 L330.50,206.40 L331.00,206.40 L331.50,206.40 L332.00,206.40 L332.50,206.30 L333.00,206.11 L333.50,206.20 L334.00,206.38 L334.50,206.40 L335.00,206.40 L335.50,206.40 L336.00,206.40 L336.50,206.40 L337.00,206.39 L337.50,206.21 L338.00,206.10 L338.50,206.28 L339.00,206.40 L339.50,206.40 L340.00,206.40 L340.50,206.40 L341.00,206.40 L341.50,206.40 L342.00,206.34 L342.50,206.14 L343.00,206.15 L343.50,206.35 L344.00,206.40 L344.50,206.40 L345.00,206.40 L345.50,206.40 L346.00,206.40 L346.50,206.40 L347.00,206.27 L347.50,206.10 L348.00,206.23 L348.50,206.39 L349.00,206.40 L349.50,206.40 L350.00,206.40 L350.50,206.40 L351.00,206.40 L351.50,206.37 L352.00,206.18 L352.50,206.12 L353.00,206.31 L353.50,206.40 L354.00,206.40 L354.50,206.40 L355.00,206.40 L355.50,206.40 L356.00,206.40 L356.50,206.32 L357.00,206.12 L357.50,206.18 L358.00,206.37 L358.50,206.40 L359.00,206.40 L359.50,206.40 L360.00,206.40 L360.50,206.40 L361.00,206.39 L361.50,206.24 L362.00,206.10 L362.50,206.26 L363.00,206.40 L363.50,206.40 L364.00,206.40 L364.50,206.40 L365.00,206.40 L365.50,206.40 L366.00,206.36 L366.50,206.16 L367.00,206.14 L367.50,206.34 L368.00,206.40 L368.50,206.40 L369.00,206.40 L369.50,206.40 L370.00,206.40 L370.50,206.40 L371.00,206.29 L371.50,206.11 L372.00,206.21 L372.50,206.38 L373.00,206.40 L373.50,206.40 L374.00,206.40 L374.50,206.40 L375.00,206.40 L375.50,206.38 L376.00,206.20 L376.50,206.11 L377.00,206.29 L377.50,206.40 L378.00,206.40 L378.50,206.40 L379.00,206.40 L379.50,206.40 L380.00,206.40 L380.50,206.34 L381.00,206.13 L381.50,206.16 L382.00,206.36 L382.50,206.40 L383.00,206.40 L383.50,206.40 L384.00,206.40 L384.50,206.40 L385.00,206.40 L385.50,206.26 L386.00,206.10 L386.50,206.24 L387.00,206.39 L387.50,206.40 L388.00,206.40 L388.50,206.40 L389.00,206.40 L389.50,206.40 L390.00,206.37 L390.50,206.18 L391.00,206.12 L391.50,206.32 L392.00,206.40 L392.50,206.40 L393.00,206.40 L393.50,206.40 L394.00,206.40 L394.50,206.40 L395.00,206.31 L395.50,206.11 L396.00,206.19 L396.50,206.38 L397.00,206.40 L397.50,206.40 L398.00,206.40 L398.50,206.40 L399.00,206.40 L399.50,206.39" stroke="#006400" stroke-width="1.1"/>
</g>
<g fill="none" stroke-linejoin="round" stroke-linecap="butt" clip-path="url(#c2)">
<path d="M100.50,216.60 L100.75,228.52 L101.00,239.10 L101.25,248.42 L101.50,255.64 L101.75,261.75 L102.00,267.41 L102.25,273.21 L102.50,279.64 L102.75,286.10 L103.00,291.72 L103.25,295.63 L103.50,298.50 L103.75,300.93 L104.00,303.03 L104.25,304.90 L104.50,306.64 L104.75,308.35 L105.00,310.11 L105.25,311.84 L105.50,313.50 L105.75,315.10 L106.00,316.65 L106.25,318.14 L106.50,319.57 L106.75,320.95 L107.00,322.28 L107.25,323.56 L107.50,324.78 L107.75,325.95 L108.00,327.08 L108.25,328.16 L108.50,329.20 L108.75,330.20 L109.00,331.15 L109.25,332.05 L109.50,332.92 L109.75,333.78 L110.00,334.65 L110.25,335.53 L110.50,336.42 L110.75,337.28 L111.00,338.10 L111.25,338.86 L111.50,339.55 L111.75,340.21 L112.00,340.84 L112.25,341.44 L112.50,342.02 L112.75,342.59 L113.00,343.13 L113.25,343.67 L113.50,344.19 L113.75,344.70 L114.00,345.20 L114.25,345.70 L114.50,346.19 L114.75,346.68 L115.00,347.15 L115.25,347.61 L115.50,348.06 L115.75,348.49 L116.00,348.91 L116.25,349.32 L116.50,349.70 L116.75,350.07 L117.00,350.43 L117.25,350.79 L117.50,351.14 L117.75,351.48 L118.00,351.81 L118.25,352.14 L118.50,352.46 L118.75,352.77 L119.00,353.07 L119.25,353.36 L119.50,353.64 L119.75,353.91 L120.00,354.16 L120.25,354.40 L120.50,354.63 L120.75,354.84 L121.00,355.05 L121.25,355.24 L121.50,355.44 L121.75,355.62 L122.00,355.81 L122.25,355.98 L122.50,356.16 L122.75,356.32 L123.00,356.49 L123.25,356.64 L123.50,356.80 L123.75,356.94 L124.00,357.09 L124.25,357.23 L124.50,357.36 L124.75,357.50 L125.00,357.62 L125.25,357.75 L125.50,357.87 L125.75,357.99 L126.00,358.10 L126.25,358.21 L126.50,358.32 L126.75,358.43 L127.00,358.53 L127.25,358.64 L127.50,358.74 L127.75,358.84 L128.00,358.94 L128.25,359.04 L128.50,359.13 L128.75,359.22 L129.00,359.31 L129.25,359.40 L129.50,359.49 L129.75,359.57 L130.00,359.66 L130.25,359.74 L130.50,359.81 L130.75,359.89 L131.00,359.96 L131.25,360.03 L131.50,360.10 L131.75,360.17 L132.00,360.23 L132.25,360.30 L132.50,360.35 L132.75,360.41 L133.00,360.47 L133.25,360.52 L133.50,360.57 L133.75,360.62 L134.00,360.67 L134.25,360.72 L134.50,360.77 L134.75,360.81 L135.00,360.86 L135.25,360.90 L135.50,360.95 L135.75,360.99 L136.00,361.03 L136.25,361.07 L136.50,361.11 L136.75,361.15 L137.00,361.18 L137.25,361.22 L137.50,361.26 L137.75,361.29 L138.00,361.33 L138.25,361.36 L138.50,361.40 L138.75,361.43 L139.00,361.46 L139.25,361.49 L139.50,361.53 L139.75,361.56 L140.00,361.59 L140.25,361.62 L140.50,361.65 L140.75,361.68 L141.00,361.71 L141.25,361.74 L141.50,361.77 L141.75,361.80 L142.00,361.82 L142.25,361.85 L142.50,361.88 L142.75,361.90 L143.00,361.93 L143.25,361.96 L143.50,361.98 L143.75,362.01 L144.00,362.03 L144.25,362.05 L144.50,362.08 L144.75,362.10 L145.00,362.12 L145.25,362.14 L145.50,362.16 L145.75,362.18 L146.00,362.20 L146.25,362.22 L146.50,362.24 L146.75,362.26 L147.00,362.27 L147.25,362.29 L147.50,362.31 L147.75,362.33 L148.00,362.34 L148.25,362.36 L148.50,362.38 L148.75,362.39 L149.00,362.41 L149.25,362.42 L149.50,362.44 L149.75,362.45 L150.00,362.47 L150.25,362.48 L150.50,362.49 L150.75,362.51 L151.00,362.52 L151.25,362.53 L151.50,362.55 L151.75,362.56 L152.00,362.57 L152.25,362.58 L152.50,362.59 L152.75,362.60 L153.00,362.61 L153.25,362.62 L153.50,362.63 L153.75,362.64 L154.00,362.65 L154.25,362.66 L154.50,362.67 L154.75,362.68 L155.00,362.69 L155.25,362.68 L155.50,362.67 L155.75,362.67 L156.00,362.66 L156.25,362.66 L156.50,362.65 L156.75,362.65 L157.00,362.65 L157.25,362.65 L157.50,362.65 L157.75,362.65 L158.00,362.65 L158.25,362.60 L158.50,362.43 L158.75,362.57 L159.00,362.46 L159.45,362.47 L159.90,362.56 L160.35,362.09 L160.80,362.07 L161.25,362.64 L161.70,362.78 L162.15,362.33 L162.60,363.04 L163.05,362.62 L163.50,362.17 L163.95,362.83 L164.40,363.96 L164.85,362.44 L165.30,363.57 L165.75,363.72 L166.20,363.81 L166.65,362.43 L167.10,364.15 L167.55,363.03 L168.00,362.83 L168.45,362.86 L168.90,363.38 L169.35,363.06 L169.80,362.94 L170.25,363.83 L170.70,362.65 L171.15,362.47 L171.60,363.59 L172.05,363.55 L172.50,363.79 L172.95,362.51 L173.40,363.81 L173.85,363.47 L174.30,364.25 L174.75,362.45 L175.20,363.34 L175.65,363.05 L176.10,362.27 L176.55,362.80 L177.00,363.92 L177.45,362.96 L177.90,362.82 L178.35,363.77 L178.80,363.85 L179.25,363.85 L179.70,362.79 L180.15,363.23 L180.60,363.89 L181.05,362.88 L181.50,362.83 L181.95,363.78 L182.40,364.22 L182.85,362.60 L183.30,361.99 L183.75,362.42 L184.20,362.69 L184.65,363.22 L185.10,363.67 L185.55,363.22 L186.00,362.89 L186.45,363.40 L186.90,362.73 L187.35,363.29 L187.80,362.93 L188.25,364.62 L188.70,363.81 L189.15,362.82 L189.60,362.73 L190.05,363.06 L190.50,362.34 L190.95,362.89 L191.40,362.89 L191.85,363.86 L192.30,363.08 L192.75,362.86 L193.20,362.53 L193.65,362.63 L194.10,363.30 L194.55,363.21 L195.00,364.02 L195.45,362.97 L195.90,363.98 L196.35,363.50 L196.80,363.34 L197.25,362.14 L197.70,362.57 L198.15,363.79 L198.60,364.19 L199.05,363.47 L199.50,363.81 L199.95,363.11 L200.40,363.13 L200.85,362.95 L201.30,363.94 L201.75,363.56 L202.20,363.21 L202.65,363.15 L203.10,363.69 L203.55,363.55 L204.00,362.85 L204.45,364.38 L204.90,363.51 L205.35,363.36 L205.80,364.21 L206.25,363.93 L206.70,363.31 L207.15,363.65 L207.60,362.79 L208.05,363.02 L208.50,362.26 L208.95,363.96 L209.40,362.44 L209.85,363.68 L210.30,362.98 L210.75,362.92 L211.20,363.27 L211.65,363.47 L212.10,363.61 L212.55,364.06 L213.00,363.50 L213.45,363.69 L213.90,363.14 L214.35,363.59 L214.80,363.40 L215.25,363.24 L215.70,363.34 L216.00,363.35 L218.00,363.36 L220.00,363.36 L222.00,363.36 L224.00,363.36 L226.00,363.36 L228.00,363.37 L230.00,363.37 L232.00,363.37 L234.00,363.37 L236.00,363.37 L238.00,363.37 L240.00,363.37 L242.00,363.37 L244.00,363.37 L246.00,363.37 L248.00,363.37 L250.00,363.38 L252.00,363.38 L254.00,363.38 L256.00,363.38 L258.00,363.38 L260.00,363.38 L262.00,363.38 L264.00,363.38 L266.00,363.38 L268.00,363.38 L270.00,363.38 L272.00,363.38 L274.00,363.38 L276.00,363.38 L278.00,363.38 L280.00,363.39 L282.00,363.39 L284.00,363.39 L286.00,363.39 L288.00,363.39 L290.00,363.39 L292.00,363.39 L294.00,363.39 L296.00,363.39 L298.00,363.39 L300.00,363.39 L302.00,363.39 L304.00,363.39 L306.00,363.39 L308.00,363.39 L310.00,363.39 L312.00,363.39 L314.00,363.39 L316.00,363.39 L318.00,363.39 L320.00,363.39 L322.00,363.39 L324.00,363.39 L326.00,363.40 L328.00,363.40 L330.00,363.40 L332.00,363.40 L334.00,363.40 L336.00,363.40 L338.00,363.40 L340.00,363.40 L342.00,363.40 L344.00,363.40 L346.00,363.40 L348.00,363.40 L350.00,363.40 L352.00,363.40 L354.00,363.40 L356.00,363.40 L358.00,363.40 L360.00,363.40 L362.00,363.40 L364.00,363.40 L366.00,363.40 L368.00,363.40 L370.00,363.40 L372.00,363.40 L374.00,363.40 L376.00,363.40 L378.00,363.40 L380.00,363.40 L382.00,363.40 L384.00,363.40 L386.00,363.40 L388.00,363.40 L390.00,363.40 L392.00,363.40 L394.00,363.40 L396.00,363.40 L398.00,363.40 L400.00,363.40" stroke="#0000ff" stroke-width="1.3"/>
<path d="M100.70,216.60 L100.95,219.46 L101.20,222.37 L101.45,225.33 L101.70,228.34 L101.95,231.38 L102.20,234.49 L102.45,237.66 L102.70,240.88 L102.95,244.13 L103.20,247.39 L103.45,250.65 L103.70,253.93 L103.95,257.23 L104.20,260.55 L104.45,263.87 L104.70,267.18 L104.95,270.47 L105.20,273.71 L105.45,276.94 L105.70,280.25 L105.95,283.58 L106.20,286.84 L106.45,289.97 L106.70,292.88 L106.95,295.50 L107.20,297.94 L107.45,300.25 L107.70,302.40 L107.95,304.36 L108.20,306.10 L108.45,307.67 L108.70,309.13 L108.95,310.51 L109.20,311.80 L109.45,313.02 L109.70,314.19 L109.95,315.30 L110.20,316.37 L110.45,317.41 L110.70,318.42 L110.95,319.41 L111.20,320.38 L111.45,321.32 L111.70,322.24 L111.95,323.12 L112.20,323.98 L112.45,324.82 L112.70,325.62 L112.95,326.40 L113.20,327.14 L113.45,327.85 L113.70,328.54 L113.95,329.19 L114.20,329.81 L114.45,330.42 L114.70,331.00 L114.95,331.56 L115.20,332.10 L115.45,332.63 L115.70,333.13 L115.95,333.62 L116.20,334.10 L116.45,334.55 L116.70,335.00 L116.95,335.43 L117.20,335.83 L117.45,336.21 L117.70,336.58 L117.95,336.94 L118.20,337.30 L118.45,337.66 L118.70,338.01 L118.95,338.36 L119.20,338.70 L119.45,339.04 L119.70,339.37 L119.95,339.70 L120.20,340.01 L120.45,340.31 L120.70,340.60 L120.95,340.88 L121.20,341.15 L121.45,341.42 L121.70,341.68 L121.95,341.93 L122.20,342.16 L122.45,342.39 L122.70,342.60 L122.95,342.80 L123.20,342.99 L123.45,343.17 L123.70,343.35 L123.95,343.52 L124.20,343.68 L124.45,343.84 L124.70,344.00 L124.95,344.16 L125.20,344.31 L125.45,344.46 L125.70,344.61 L125.95,344.77 L126.20,344.93 L126.45,345.08 L126.70,345.24 L126.95,345.39 L127.20,345.54 L127.45,345.67 L127.70,345.80 L127.95,345.92 L128.20,346.03 L128.45,346.14 L128.70,346.25 L128.95,346.35 L129.20,346.46 L129.45,346.56 L129.70,346.65 L129.95,346.75 L130.20,346.84 L130.45,346.93 L130.70,347.02 L130.95,347.11 L131.20,347.19 L131.45,347.28 L131.70,347.36 L131.95,347.45 L132.20,347.53 L132.45,347.62 L132.70,347.70 L132.95,347.78 L133.20,347.86 L133.45,347.94 L133.70,348.02 L133.95,348.09 L134.20,348.17 L134.45,348.24 L134.70,348.31 L134.95,348.38 L135.20,348.45 L135.45,348.52 L135.70,348.59 L135.95,348.66 L136.20,348.74 L136.45,348.81 L136.70,348.88 L136.95,348.96 L137.20,349.04 L137.45,349.12 L137.70,349.20 L137.95,349.28 L138.20,349.37 L138.45,349.45 L138.70,349.54 L138.95,349.62 L139.20,349.71 L139.45,349.79 L139.70,349.89 L139.95,349.98 L140.20,350.08 L140.45,350.19 L140.70,350.30 L140.95,350.42 L141.20,350.55 L141.45,350.69 L141.70,350.84 L141.95,351.03 L142.20,351.23 L142.45,351.45 L142.70,351.71 L142.95,352.01 L143.20,352.37 L143.45,352.76 L143.70,353.17 L143.95,353.67 L144.20,354.19 L144.45,354.71 L144.70,355.17 L144.95,355.61 L145.20,356.03 L145.45,356.45 L145.70,356.88 L145.95,357.29 L146.20,357.66 L146.45,357.99 L146.70,358.29 L146.95,358.56 L147.20,358.81 L147.45,359.03 L147.70,359.24 L147.95,359.44 L148.20,359.63 L148.45,359.80 L148.70,359.97 L148.95,360.13 L149.20,360.28 L149.45,360.42 L149.70,360.56 L149.95,360.68 L150.20,360.79 L150.45,360.89 L150.70,360.98 L150.95,361.07 L151.20,361.15 L151.45,361.23 L151.70,361.31 L151.95,361.39 L152.20,361.46 L152.45,361.53 L152.70,361.60 L152.95,361.67 L153.20,361.73 L153.45,361.79 L153.70,361.84 L153.95,361.89 L154.20,361.93 L154.45,361.97 L154.70,362.01 L154.95,362.05 L155.20,362.08 L155.45,362.11 L155.70,362.15 L155.95,362.18 L156.20,362.21 L156.45,362.23 L156.70,362.26 L156.95,362.29 L157.20,362.31 L157.45,362.34 L157.70,362.36 L157.95,362.39 L158.20,362.41 L158.45,362.43 L158.70,362.45 L158.95,362.47 L159.20,362.49 L159.45,362.51 L159.70,362.53 L159.95,362.55 L160.20,362.57 L160.45,362.59 L160.70,362.61 L160.95,362.62 L161.20,362.64 L161.45,362.66 L161.70,362.67 L161.95,362.69 L162.20,362.70 L162.45,362.72 L162.70,362.74 L162.95,362.75 L163.20,362.76 L163.45,362.78 L163.70,362.79 L163.95,362.81 L164.20,362.82 L164.45,362.83 L164.70,362.84 L164.95,362.85 L165.20,362.87 L165.45,362.88 L165.70,362.89 L165.95,362.90 L166.20,362.91 L166.45,362.92 L166.70,362.93 L166.95,362.94 L167.20,362.95 L167.45,362.96 L167.70,362.97 L167.95,362.98 L168.20,362.99 L168.45,363.00 L168.70,363.01 L168.95,363.02 L169.20,363.03 L169.45,363.04 L169.70,363.04 L169.95,363.05 L170.20,363.06 L170.45,363.07 L170.70,363.08 L170.95,363.09 L171.20,363.10 L171.45,363.11 L171.70,363.11 L171.95,363.12 L172.20,363.13 L172.45,363.14 L172.70,363.14 L172.95,363.15 L173.20,363.16 L173.45,363.17 L173.70,363.17 L173.95,363.18 L174.20,363.19 L174.45,363.19 L174.70,363.20 L174.95,363.20 L175.20,363.21 L175.45,363.21 L175.70,363.22 L175.95,363.22 L176.20,363.23 L176.45,363.23 L176.70,363.23 L176.95,363.24 L177.20,363.24 L177.45,363.24 L177.70,363.25 L177.95,363.25 L178.20,363.25 L178.45,363.25 L178.70,363.26 L178.95,363.26 L179.20,363.26 L179.45,363.26 L179.70,363.26 L179.95,363.27 L180.00,363.27 L182.00,363.28 L184.00,363.29 L186.00,363.31 L188.00,363.32 L190.00,363.33 L192.00,363.33 L194.00,363.34 L196.00,363.34 L198.00,363.35 L200.00,363.35 L202.00,363.35 L204.00,363.35 L206.00,363.35 L208.00,363.35 L210.00,363.36 L212.00,363.36 L214.00,363.36 L216.00,363.36 L218.00,363.36 L220.00,363.36 L222.00,363.36 L224.00,363.36 L226.00,363.36 L228.00,363.37 L230.00,363.37 L232.00,363.37 L234.00,363.37 L236.00,363.37 L238.00,363.37 L240.00,363.37 L242.00,363.37 L244.00,363.37 L246.00,363.37 L248.00,363.37 L250.00,363.38 L252.00,363.38 L254.00,363.38 L256.00,363.38 L258.00,363.38 L260.00,363.38 L262.00,363.38 L264.00,363.38 L266.00,363.38 L268.00,363.38 L270.00,363.38 L272.00,363.38 L274.00,363.38 L276.00,363.38 L278.00,363.38 L280.00,363.39 L282.00,363.39 L284.00,363.39 L286.00,363.39 L288.00,363.39 L290.00,363.39 L292.00,363.39 L294.00,363.39 L296.00,363.39 L298.00,363.39 L300.00,363.39 L302.00,363.39 L304.00,363.39 L306.00,363.39 L308.00,363.39 L310.00,363.39 L312.00,363.39 L314.00,363.39 L316.00,363.39 L318.00,363.39 L320.00,363.39 L322.00,363.39 L324.00,363.39 L326.00,363.40 L328.00,363.40 L330.00,363.40 L332.00,363.40 L334.00,363.40 L336.00,363.40 L338.00,363.40 L340.00,363.40 L342.00,363.40 L344.00,363.40 L346.00,363.40 L348.00,363.40 L350.00,363.40 L352.00,363.40 L354.00,363.40 L356.00,363.40 L358.00,363.40 L360.00,363.40 L362.00,363.40 L364.00,363.40 L366.00,363.40 L368.00,363.40 L370.00,363.40 L372.00,363.40 L374.00,363.40 L376.00,363.40 L378.00,363.40 L380.00,363.40 L382.00,363.40 L384.00,363.40 L386.00,363.40 L388.00,363.40 L390.00,363.40 L392.00,363.40 L394.00,363.40 L396.00,363.40 L398.00,363.40 L400.00,363.40" stroke="#ff0000" stroke-width="1.3"/>
</g>
<g fill="none" stroke="#000" stroke-width="2" stroke-linecap="square">
<rect x="100.1" y="34.0" width="299.9" height="349.7"/>
<path d="M100.1,208.75 L400.0,208.75"/>
</g>
<g>
<text transform="translate(91.90,213.70) scale(0.9524,1)" font-size="14.70" fill="#000" text-anchor="end">0</text>
<text transform="translate(91.90,181.93) scale(0.9524,1)" font-size="14.70" fill="#000" text-anchor="end">10</text>
<text transform="translate(91.90,150.15) scale(0.9524,1)" font-size="14.70" fill="#000" text-anchor="end">20</text>
<text transform="translate(91.90,118.38) scale(0.9524,1)" font-size="14.70" fill="#000" text-anchor="end">30</text>
<text transform="translate(91.90,86.61) scale(0.9524,1)" font-size="14.70" fill="#000" text-anchor="end">40</text>
<text transform="translate(91.90,54.84) scale(0.9524,1)" font-size="14.70" fill="#000" text-anchor="end">50</text>
<text transform="translate(91.90,388.65) scale(0.9524,1)" font-size="14.70" fill="#000" text-anchor="end">0</text>
<text transform="translate(91.90,358.55) scale(0.9524,1)" font-size="14.70" fill="#000" text-anchor="end">5</text>
<text transform="translate(91.90,328.45) scale(0.9524,1)" font-size="14.70" fill="#000" text-anchor="end">10</text>
<text transform="translate(91.90,298.35) scale(0.9524,1)" font-size="14.70" fill="#000" text-anchor="end">15</text>
<text transform="translate(91.90,268.25) scale(0.9524,1)" font-size="14.70" fill="#000" text-anchor="end">20</text>
<text transform="translate(91.90,238.15) scale(0.9524,1)" font-size="14.70" fill="#000" text-anchor="end">25</text>
<text transform="translate(101.80,402.50) scale(0.9524,1)" font-size="14.70" fill="#000" text-anchor="middle">0</text>
<text transform="translate(161.78,402.50) scale(0.9524,1)" font-size="14.70" fill="#000" text-anchor="middle">2000</text>
<text transform="translate(221.76,402.50) scale(0.9524,1)" font-size="14.70" fill="#000" text-anchor="middle">4000</text>
<text transform="translate(281.74,402.50) scale(0.9524,1)" font-size="14.70" fill="#000" text-anchor="middle">6000</text>
<text transform="translate(341.72,402.50) scale(0.9524,1)" font-size="14.70" fill="#000" text-anchor="middle">8000</text>
<text transform="translate(401.70,402.50) scale(0.9524,1)" font-size="14.70" fill="#000" text-anchor="middle">10000</text>
<text transform="translate(220.00,54.50) scale(0.9524,1)" font-size="14.57" fill="#ff0000" text-anchor="start">Core w.r.t. ecliptic</text>
<text transform="translate(220.00,70.40) scale(0.9524,1)" font-size="14.57" fill="#0000ff" text-anchor="start">Mantle w.r.t. ecliptic</text>
<text transform="translate(220.00,86.20) scale(0.9524,1)" font-size="14.57" fill="#ff00ff" text-anchor="start">Core-mantle offset</text>
<text transform="translate(220.00,102.10) scale(0.9524,1)" font-size="14.57" fill="#006400" text-anchor="start">Mantle w.r.t. orbit</text>
<text transform="translate(219.80,239.00) scale(0.9524,1)" font-size="18.20" fill="#ff0000" text-anchor="start">Core</text>
<text transform="translate(219.80,268.90) scale(0.9524,1)" font-size="18.20" fill="#0000ff" text-anchor="start">Mantle</text>
<text transform="translate(250.00,424.80) scale(0.9524,1)" font-size="18.20" fill="#000" text-anchor="middle">Time (years)</text>
<text transform="translate(57.00,121.60) rotate(-90) scale(0.9524,1)" font-size="18.20" fill="#000" text-anchor="middle">Obliquity (&#176;)</text>
<text transform="translate(57.00,296.20) rotate(-90) scale(0.9524,1)" font-size="18.20" fill="#000" text-anchor="middle">Spin period (days)</text>
</g>
</svg>
</body>
</html>
